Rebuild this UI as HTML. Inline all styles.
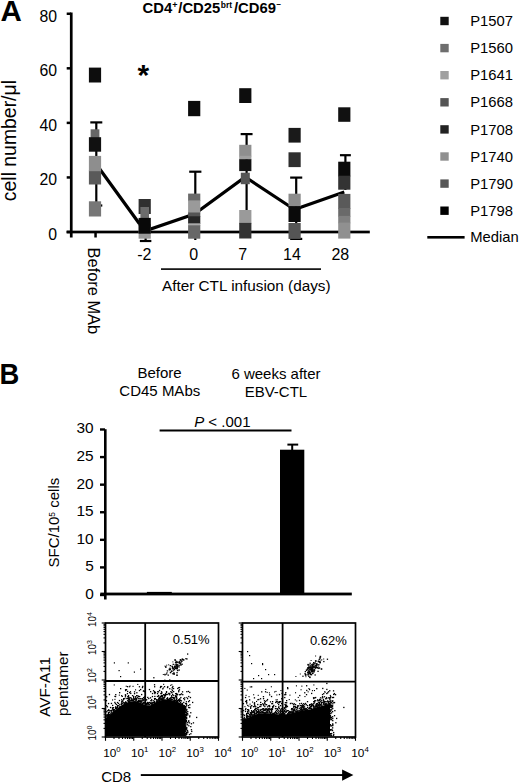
<!DOCTYPE html>
<html><head><meta charset="utf-8"><style>
html,body{margin:0;padding:0;background:#fff;}
svg{display:block;}
text{font-family:"Liberation Sans",sans-serif;fill:#000;}
</style></head><body>
<svg width="520" height="784" viewBox="0 0 520 784" shape-rendering="auto">
<rect width="520" height="784" fill="#fff"/>
<text x="0.60" y="21.20" font-size="29.5" text-anchor="start" font-weight="bold" >A</text>
<text x="142.6" y="13" font-size="14.8" font-weight="bold">CD4<tspan font-size="9" dy="-5.5">+</tspan><tspan dy="5.5" dx="0.8">/CD25</tspan><tspan font-size="8.5" dy="-5.5" dx="0.6">brt</tspan><tspan dy="5.5" dx="1.8">/CD69</tspan><tspan font-size="8" dy="-6" dx="0.6">−</tspan></text>
<rect x="69.90" y="12.50" width="2.70" height="225.00" fill="#000"/>
<rect x="66.70" y="230.75" width="4.30" height="2.50" fill="#000"/>
<text x="57.00" y="240.00" font-size="15.8" text-anchor="end" font-weight="normal" >0</text>
<rect x="66.70" y="176.19" width="4.30" height="2.50" fill="#000"/>
<text x="57.00" y="185.44" font-size="15.8" text-anchor="end" font-weight="normal" >20</text>
<rect x="66.70" y="121.63" width="4.30" height="2.50" fill="#000"/>
<text x="57.00" y="130.88" font-size="15.8" text-anchor="end" font-weight="normal" >40</text>
<rect x="66.70" y="67.07" width="4.30" height="2.50" fill="#000"/>
<text x="57.00" y="76.32" font-size="15.8" text-anchor="end" font-weight="normal" >60</text>
<rect x="66.70" y="12.51" width="4.30" height="2.50" fill="#000"/>
<text x="57.00" y="21.76" font-size="15.8" text-anchor="end" font-weight="normal" >80</text>
<rect x="66.60" y="230.65" width="303.20" height="2.70" fill="#000"/>
<rect x="94.30" y="232.00" width="2.50" height="5.50" fill="#000"/>
<text transform="translate(15.9,140.6) rotate(-90)" x="0" y="0" font-size="19.4" text-anchor="middle">cell number/μl</text>
<text transform="translate(87.5,247.6) rotate(90)" x="0" y="0" font-size="16.4">Before MAb</text>
<text x="144.35" y="259.60" font-size="16" text-anchor="middle" font-weight="normal" >-2</text>
<text x="193.75" y="259.60" font-size="16" text-anchor="middle" font-weight="normal" >0</text>
<text x="242.60" y="259.60" font-size="16" text-anchor="middle" font-weight="normal" >7</text>
<text x="292.00" y="259.60" font-size="16" text-anchor="middle" font-weight="normal" >14</text>
<text x="340.30" y="259.60" font-size="16" text-anchor="middle" font-weight="normal" >28</text>
<rect x="161.00" y="268.30" width="160.00" height="1.60" fill="#000"/>
<text x="162.00" y="291.30" font-size="15.3" text-anchor="start" font-weight="normal" >After CTL infusion (days)</text>
<text x="143.30" y="84.50" font-size="30" text-anchor="middle" font-weight="bold" >*</text>
<polyline points="95,162.5 144.7,231 194.4,214 245.2,177 294.5,209.5 344.3,192" fill="none" stroke="#000" stroke-width="3.2" stroke-linejoin="miter"/>
<line x1="96.30" y1="122.40" x2="96.30" y2="205.50" stroke="#000" stroke-width="2.2"/>
<line x1="90.30" y1="122.40" x2="102.30" y2="122.40" stroke="#000" stroke-width="2.2"/>
<line x1="90.30" y1="205.50" x2="102.30" y2="205.50" stroke="#000" stroke-width="2.2"/>
<rect x="88.90" y="67.60" width="12.20" height="14.90" fill="#0d0d0d"/>
<rect x="90.60" y="129.30" width="8.80" height="14.40" fill="#666"/>
<rect x="88.90" y="137.20" width="12.20" height="14.50" fill="#111"/>
<rect x="88.90" y="170.30" width="12.20" height="14.20" fill="#5a5a5a"/>
<rect x="88.90" y="155.90" width="12.20" height="15.30" fill="#8e8e8e"/>
<rect x="88.90" y="201.30" width="12.20" height="15.20" fill="#777"/>
<line x1="145.60" y1="228.00" x2="145.60" y2="241.00" stroke="#000" stroke-width="2.2"/>
<line x1="139.85" y1="241.00" x2="151.35" y2="241.00" stroke="#000" stroke-width="2.2"/>
<rect x="138.60" y="224.00" width="12.20" height="14.70" fill="#999"/>
<rect x="138.60" y="199.00" width="12.20" height="15.00" fill="#303030"/>
<rect x="140.40" y="207.00" width="8.60" height="11.20" fill="#6c6c6c"/>
<rect x="138.60" y="217.90" width="12.20" height="15.80" fill="#080808"/>
<line x1="195.30" y1="171.70" x2="195.30" y2="240.00" stroke="#000" stroke-width="2.2"/>
<line x1="189.20" y1="171.70" x2="201.40" y2="171.70" stroke="#000" stroke-width="2.2"/>
<rect x="188.10" y="100.90" width="12.20" height="15.30" fill="#0a0a0a"/>
<rect x="188.10" y="193.60" width="12.20" height="7.50" fill="#6a6a6a"/>
<rect x="188.10" y="200.40" width="12.20" height="12.80" fill="#9a9a9a"/>
<rect x="188.10" y="212.50" width="12.20" height="4.50" fill="#555"/>
<rect x="188.10" y="216.30" width="12.20" height="7.70" fill="#262626"/>
<rect x="188.10" y="223.30" width="12.20" height="2.70" fill="#aaa"/>
<rect x="188.10" y="225.30" width="12.20" height="13.40" fill="#686868"/>
<line x1="246.60" y1="134.10" x2="246.60" y2="210.00" stroke="#000" stroke-width="2.2"/>
<line x1="240.65" y1="134.10" x2="252.55" y2="134.10" stroke="#000" stroke-width="2.2"/>
<rect x="239.20" y="88.20" width="12.20" height="14.80" fill="#0d0d0d"/>
<rect x="239.20" y="144.80" width="12.20" height="11.70" fill="#8f8f8f"/>
<rect x="239.20" y="155.80" width="12.20" height="3.90" fill="#a0a0a0"/>
<rect x="239.20" y="159.20" width="12.20" height="11.90" fill="#111"/>
<rect x="240.80" y="172.70" width="9.00" height="11.50" fill="#555"/>
<rect x="239.20" y="210.00" width="12.20" height="13.70" fill="#9a9a9a"/>
<rect x="239.20" y="222.90" width="12.20" height="15.60" fill="#333"/>
<line x1="296.20" y1="177.60" x2="296.20" y2="238.90" stroke="#000" stroke-width="2.2"/>
<line x1="290.15" y1="177.60" x2="302.25" y2="177.60" stroke="#000" stroke-width="2.2"/>
<line x1="290.15" y1="238.90" x2="302.25" y2="238.90" stroke="#000" stroke-width="2.2"/>
<rect x="288.50" y="127.90" width="12.20" height="14.70" fill="#1a1a1a"/>
<rect x="288.50" y="152.30" width="12.20" height="14.80" fill="#2e2e2e"/>
<rect x="288.50" y="193.70" width="12.20" height="13.10" fill="#8c8c8c"/>
<rect x="288.50" y="206.10" width="12.20" height="15.90" fill="#0a0a0a"/>
<rect x="288.50" y="223.00" width="12.20" height="15.90" fill="#555"/>
<line x1="345.40" y1="155.20" x2="345.40" y2="190.00" stroke="#000" stroke-width="2.2"/>
<line x1="339.95" y1="155.20" x2="350.85" y2="155.20" stroke="#000" stroke-width="2.2"/>
<rect x="338.20" y="107.30" width="12.20" height="14.50" fill="#111"/>
<rect x="338.20" y="161.70" width="12.20" height="14.70" fill="#0a0a0a"/>
<rect x="338.20" y="175.70" width="12.20" height="14.00" fill="#333"/>
<rect x="338.20" y="193.90" width="12.20" height="15.00" fill="#5a5a5a"/>
<rect x="338.20" y="208.20" width="12.20" height="8.40" fill="#6a6a6a"/>
<rect x="338.20" y="215.90" width="12.20" height="7.40" fill="#808080"/>
<rect x="338.20" y="222.60" width="12.20" height="16.00" fill="#909090"/>
<rect x="440.30" y="16.80" width="8.40" height="8.40" fill="#111"/>
<text x="470.20" y="26.10" font-size="14.8" text-anchor="start" font-weight="normal" >P1507</text>
<rect x="440.30" y="43.90" width="8.40" height="8.40" fill="#6e6e6e"/>
<text x="470.20" y="53.20" font-size="14.8" text-anchor="start" font-weight="normal" >P1560</text>
<rect x="440.30" y="71.00" width="8.40" height="8.40" fill="#a0a0a0"/>
<text x="470.20" y="80.30" font-size="14.8" text-anchor="start" font-weight="normal" >P1641</text>
<rect x="440.30" y="98.10" width="8.40" height="8.40" fill="#555"/>
<text x="470.20" y="107.40" font-size="14.8" text-anchor="start" font-weight="normal" >P1668</text>
<rect x="440.30" y="125.20" width="8.40" height="8.40" fill="#222"/>
<text x="470.20" y="134.50" font-size="14.8" text-anchor="start" font-weight="normal" >P1708</text>
<rect x="440.30" y="152.30" width="8.40" height="8.40" fill="#909090"/>
<text x="470.20" y="161.60" font-size="14.8" text-anchor="start" font-weight="normal" >P1740</text>
<rect x="440.30" y="179.40" width="8.40" height="8.40" fill="#575757"/>
<text x="470.20" y="188.70" font-size="14.8" text-anchor="start" font-weight="normal" >P1790</text>
<rect x="440.30" y="206.50" width="8.40" height="8.40" fill="#000"/>
<text x="470.20" y="215.80" font-size="14.8" text-anchor="start" font-weight="normal" >P1798</text>
<rect x="427.30" y="236.00" width="37.30" height="2.60" fill="#000"/>
<text x="470.20" y="242.40" font-size="14.8" text-anchor="start" font-weight="normal" >Median</text>
<text transform="translate(-0.6,384.0) scale(0.93,1)" font-size="29.5" font-weight="bold">B</text>
<text x="159.60" y="377.70" font-size="15" text-anchor="middle" font-weight="normal" >Before</text>
<text x="159.80" y="395.60" font-size="15" text-anchor="middle" font-weight="normal" >CD45 MAbs</text>
<text x="276.00" y="378.60" font-size="15" text-anchor="middle" font-weight="normal" >6 weeks after</text>
<text x="275.90" y="397.00" font-size="15" text-anchor="middle" font-weight="normal" >EBV-CTL</text>
<text x="194.2" y="426.6" font-size="15"><tspan font-style="italic">P</tspan> &lt; .001</text>
<rect x="159.60" y="429.50" width="131.90" height="2.00" fill="#000"/>
<rect x="104.00" y="429.20" width="2.60" height="170.30" fill="#000"/>
<rect x="100.00" y="593.80" width="5.00" height="2.40" fill="#000"/>
<text x="93.70" y="598.90" font-size="15.4" text-anchor="end" font-weight="normal" >0</text>
<rect x="100.00" y="566.21" width="5.00" height="2.40" fill="#000"/>
<text x="93.70" y="571.31" font-size="15.4" text-anchor="end" font-weight="normal" >5</text>
<rect x="100.00" y="538.63" width="5.00" height="2.40" fill="#000"/>
<text x="93.70" y="543.73" font-size="15.4" text-anchor="end" font-weight="normal" >10</text>
<rect x="100.00" y="511.05" width="5.00" height="2.40" fill="#000"/>
<text x="93.70" y="516.14" font-size="15.4" text-anchor="end" font-weight="normal" >15</text>
<rect x="100.00" y="483.46" width="5.00" height="2.40" fill="#000"/>
<text x="93.70" y="488.56" font-size="15.4" text-anchor="end" font-weight="normal" >20</text>
<rect x="100.00" y="455.88" width="5.00" height="2.40" fill="#000"/>
<text x="93.70" y="460.97" font-size="15.4" text-anchor="end" font-weight="normal" >25</text>
<rect x="100.00" y="428.29" width="5.00" height="2.40" fill="#000"/>
<text x="93.70" y="433.39" font-size="15.4" text-anchor="end" font-weight="normal" >30</text>
<rect x="100.30" y="592.60" width="251.50" height="2.80" fill="#000"/>
<rect x="146.90" y="591.90" width="24.90" height="2.10" fill="#000"/>
<rect x="280.00" y="449.70" width="24.30" height="144.30" fill="#000"/>
<line x1="292.20" y1="444.60" x2="292.20" y2="450.00" stroke="#000" stroke-width="2"/>
<line x1="287.40" y1="444.60" x2="298.20" y2="444.60" stroke="#000" stroke-width="2"/>
<text transform="translate(59.1,522.6) rotate(-90)" font-size="15" text-anchor="middle">SFC/10<tspan font-size="8.5" dy="-4.5">5</tspan><tspan dy="4.5"> cells</tspan></text>
<rect x="105.5" y="623" width="113.0" height="114" fill="none" stroke="#000" stroke-width="1.7"/>
<line x1="145.20" y1="623.00" x2="145.20" y2="737.00" stroke="#000" stroke-width="1.8"/>
<line x1="105.50" y1="681.00" x2="218.50" y2="681.00" stroke="#000" stroke-width="1.8"/>
<line x1="105.50" y1="737.00" x2="105.50" y2="740.80" stroke="#000" stroke-width="1.1"/>
<line x1="101.70" y1="737.00" x2="105.50" y2="737.00" stroke="#000" stroke-width="1.1"/>
<line x1="114.00" y1="737.00" x2="114.00" y2="739.00" stroke="#000" stroke-width="1.1"/>
<line x1="103.50" y1="728.42" x2="105.50" y2="728.42" stroke="#000" stroke-width="1.1"/>
<line x1="118.98" y1="737.00" x2="118.98" y2="739.00" stroke="#000" stroke-width="1.1"/>
<line x1="103.50" y1="723.40" x2="105.50" y2="723.40" stroke="#000" stroke-width="1.1"/>
<line x1="122.51" y1="737.00" x2="122.51" y2="739.00" stroke="#000" stroke-width="1.1"/>
<line x1="103.50" y1="719.84" x2="105.50" y2="719.84" stroke="#000" stroke-width="1.1"/>
<line x1="125.25" y1="737.00" x2="125.25" y2="739.00" stroke="#000" stroke-width="1.1"/>
<line x1="103.50" y1="717.08" x2="105.50" y2="717.08" stroke="#000" stroke-width="1.1"/>
<line x1="127.48" y1="737.00" x2="127.48" y2="739.00" stroke="#000" stroke-width="1.1"/>
<line x1="103.50" y1="714.82" x2="105.50" y2="714.82" stroke="#000" stroke-width="1.1"/>
<line x1="129.37" y1="737.00" x2="129.37" y2="739.00" stroke="#000" stroke-width="1.1"/>
<line x1="103.50" y1="712.91" x2="105.50" y2="712.91" stroke="#000" stroke-width="1.1"/>
<line x1="131.01" y1="737.00" x2="131.01" y2="739.00" stroke="#000" stroke-width="1.1"/>
<line x1="103.50" y1="711.26" x2="105.50" y2="711.26" stroke="#000" stroke-width="1.1"/>
<line x1="132.46" y1="737.00" x2="132.46" y2="739.00" stroke="#000" stroke-width="1.1"/>
<line x1="103.50" y1="709.80" x2="105.50" y2="709.80" stroke="#000" stroke-width="1.1"/>
<line x1="133.75" y1="737.00" x2="133.75" y2="740.80" stroke="#000" stroke-width="1.1"/>
<line x1="101.70" y1="708.50" x2="105.50" y2="708.50" stroke="#000" stroke-width="1.1"/>
<line x1="142.25" y1="737.00" x2="142.25" y2="739.00" stroke="#000" stroke-width="1.1"/>
<line x1="103.50" y1="699.92" x2="105.50" y2="699.92" stroke="#000" stroke-width="1.1"/>
<line x1="147.23" y1="737.00" x2="147.23" y2="739.00" stroke="#000" stroke-width="1.1"/>
<line x1="103.50" y1="694.90" x2="105.50" y2="694.90" stroke="#000" stroke-width="1.1"/>
<line x1="150.76" y1="737.00" x2="150.76" y2="739.00" stroke="#000" stroke-width="1.1"/>
<line x1="103.50" y1="691.34" x2="105.50" y2="691.34" stroke="#000" stroke-width="1.1"/>
<line x1="153.50" y1="737.00" x2="153.50" y2="739.00" stroke="#000" stroke-width="1.1"/>
<line x1="103.50" y1="688.58" x2="105.50" y2="688.58" stroke="#000" stroke-width="1.1"/>
<line x1="155.73" y1="737.00" x2="155.73" y2="739.00" stroke="#000" stroke-width="1.1"/>
<line x1="103.50" y1="686.32" x2="105.50" y2="686.32" stroke="#000" stroke-width="1.1"/>
<line x1="157.62" y1="737.00" x2="157.62" y2="739.00" stroke="#000" stroke-width="1.1"/>
<line x1="103.50" y1="684.41" x2="105.50" y2="684.41" stroke="#000" stroke-width="1.1"/>
<line x1="159.26" y1="737.00" x2="159.26" y2="739.00" stroke="#000" stroke-width="1.1"/>
<line x1="103.50" y1="682.76" x2="105.50" y2="682.76" stroke="#000" stroke-width="1.1"/>
<line x1="160.71" y1="737.00" x2="160.71" y2="739.00" stroke="#000" stroke-width="1.1"/>
<line x1="103.50" y1="681.30" x2="105.50" y2="681.30" stroke="#000" stroke-width="1.1"/>
<line x1="162.00" y1="737.00" x2="162.00" y2="740.80" stroke="#000" stroke-width="1.1"/>
<line x1="101.70" y1="680.00" x2="105.50" y2="680.00" stroke="#000" stroke-width="1.1"/>
<line x1="170.50" y1="737.00" x2="170.50" y2="739.00" stroke="#000" stroke-width="1.1"/>
<line x1="103.50" y1="671.42" x2="105.50" y2="671.42" stroke="#000" stroke-width="1.1"/>
<line x1="175.48" y1="737.00" x2="175.48" y2="739.00" stroke="#000" stroke-width="1.1"/>
<line x1="103.50" y1="666.40" x2="105.50" y2="666.40" stroke="#000" stroke-width="1.1"/>
<line x1="179.01" y1="737.00" x2="179.01" y2="739.00" stroke="#000" stroke-width="1.1"/>
<line x1="103.50" y1="662.84" x2="105.50" y2="662.84" stroke="#000" stroke-width="1.1"/>
<line x1="181.75" y1="737.00" x2="181.75" y2="739.00" stroke="#000" stroke-width="1.1"/>
<line x1="103.50" y1="660.08" x2="105.50" y2="660.08" stroke="#000" stroke-width="1.1"/>
<line x1="183.98" y1="737.00" x2="183.98" y2="739.00" stroke="#000" stroke-width="1.1"/>
<line x1="103.50" y1="657.82" x2="105.50" y2="657.82" stroke="#000" stroke-width="1.1"/>
<line x1="185.87" y1="737.00" x2="185.87" y2="739.00" stroke="#000" stroke-width="1.1"/>
<line x1="103.50" y1="655.91" x2="105.50" y2="655.91" stroke="#000" stroke-width="1.1"/>
<line x1="187.51" y1="737.00" x2="187.51" y2="739.00" stroke="#000" stroke-width="1.1"/>
<line x1="103.50" y1="654.26" x2="105.50" y2="654.26" stroke="#000" stroke-width="1.1"/>
<line x1="188.96" y1="737.00" x2="188.96" y2="739.00" stroke="#000" stroke-width="1.1"/>
<line x1="103.50" y1="652.80" x2="105.50" y2="652.80" stroke="#000" stroke-width="1.1"/>
<line x1="190.25" y1="737.00" x2="190.25" y2="740.80" stroke="#000" stroke-width="1.1"/>
<line x1="101.70" y1="651.50" x2="105.50" y2="651.50" stroke="#000" stroke-width="1.1"/>
<line x1="198.75" y1="737.00" x2="198.75" y2="739.00" stroke="#000" stroke-width="1.1"/>
<line x1="103.50" y1="642.92" x2="105.50" y2="642.92" stroke="#000" stroke-width="1.1"/>
<line x1="203.73" y1="737.00" x2="203.73" y2="739.00" stroke="#000" stroke-width="1.1"/>
<line x1="103.50" y1="637.90" x2="105.50" y2="637.90" stroke="#000" stroke-width="1.1"/>
<line x1="207.26" y1="737.00" x2="207.26" y2="739.00" stroke="#000" stroke-width="1.1"/>
<line x1="103.50" y1="634.34" x2="105.50" y2="634.34" stroke="#000" stroke-width="1.1"/>
<line x1="210.00" y1="737.00" x2="210.00" y2="739.00" stroke="#000" stroke-width="1.1"/>
<line x1="103.50" y1="631.58" x2="105.50" y2="631.58" stroke="#000" stroke-width="1.1"/>
<line x1="212.23" y1="737.00" x2="212.23" y2="739.00" stroke="#000" stroke-width="1.1"/>
<line x1="103.50" y1="629.32" x2="105.50" y2="629.32" stroke="#000" stroke-width="1.1"/>
<line x1="214.12" y1="737.00" x2="214.12" y2="739.00" stroke="#000" stroke-width="1.1"/>
<line x1="103.50" y1="627.41" x2="105.50" y2="627.41" stroke="#000" stroke-width="1.1"/>
<line x1="215.76" y1="737.00" x2="215.76" y2="739.00" stroke="#000" stroke-width="1.1"/>
<line x1="103.50" y1="625.76" x2="105.50" y2="625.76" stroke="#000" stroke-width="1.1"/>
<line x1="217.21" y1="737.00" x2="217.21" y2="739.00" stroke="#000" stroke-width="1.1"/>
<line x1="103.50" y1="624.30" x2="105.50" y2="624.30" stroke="#000" stroke-width="1.1"/>
<line x1="101.70" y1="623.00" x2="105.50" y2="623.00" stroke="#000" stroke-width="1.1"/>
<line x1="218.50" y1="737.00" x2="218.50" y2="740.80" stroke="#000" stroke-width="1.1"/>
<rect x="242.5" y="623" width="113.0" height="114" fill="none" stroke="#000" stroke-width="1.7"/>
<line x1="282.60" y1="623.00" x2="282.60" y2="737.00" stroke="#000" stroke-width="1.8"/>
<line x1="242.50" y1="681.70" x2="355.50" y2="681.70" stroke="#000" stroke-width="1.8"/>
<line x1="242.50" y1="737.00" x2="242.50" y2="740.80" stroke="#000" stroke-width="1.1"/>
<line x1="238.70" y1="737.00" x2="242.50" y2="737.00" stroke="#000" stroke-width="1.1"/>
<line x1="251.00" y1="737.00" x2="251.00" y2="739.00" stroke="#000" stroke-width="1.1"/>
<line x1="240.50" y1="728.42" x2="242.50" y2="728.42" stroke="#000" stroke-width="1.1"/>
<line x1="255.98" y1="737.00" x2="255.98" y2="739.00" stroke="#000" stroke-width="1.1"/>
<line x1="240.50" y1="723.40" x2="242.50" y2="723.40" stroke="#000" stroke-width="1.1"/>
<line x1="259.51" y1="737.00" x2="259.51" y2="739.00" stroke="#000" stroke-width="1.1"/>
<line x1="240.50" y1="719.84" x2="242.50" y2="719.84" stroke="#000" stroke-width="1.1"/>
<line x1="262.25" y1="737.00" x2="262.25" y2="739.00" stroke="#000" stroke-width="1.1"/>
<line x1="240.50" y1="717.08" x2="242.50" y2="717.08" stroke="#000" stroke-width="1.1"/>
<line x1="264.48" y1="737.00" x2="264.48" y2="739.00" stroke="#000" stroke-width="1.1"/>
<line x1="240.50" y1="714.82" x2="242.50" y2="714.82" stroke="#000" stroke-width="1.1"/>
<line x1="266.37" y1="737.00" x2="266.37" y2="739.00" stroke="#000" stroke-width="1.1"/>
<line x1="240.50" y1="712.91" x2="242.50" y2="712.91" stroke="#000" stroke-width="1.1"/>
<line x1="268.01" y1="737.00" x2="268.01" y2="739.00" stroke="#000" stroke-width="1.1"/>
<line x1="240.50" y1="711.26" x2="242.50" y2="711.26" stroke="#000" stroke-width="1.1"/>
<line x1="269.46" y1="737.00" x2="269.46" y2="739.00" stroke="#000" stroke-width="1.1"/>
<line x1="240.50" y1="709.80" x2="242.50" y2="709.80" stroke="#000" stroke-width="1.1"/>
<line x1="270.75" y1="737.00" x2="270.75" y2="740.80" stroke="#000" stroke-width="1.1"/>
<line x1="238.70" y1="708.50" x2="242.50" y2="708.50" stroke="#000" stroke-width="1.1"/>
<line x1="279.25" y1="737.00" x2="279.25" y2="739.00" stroke="#000" stroke-width="1.1"/>
<line x1="240.50" y1="699.92" x2="242.50" y2="699.92" stroke="#000" stroke-width="1.1"/>
<line x1="284.23" y1="737.00" x2="284.23" y2="739.00" stroke="#000" stroke-width="1.1"/>
<line x1="240.50" y1="694.90" x2="242.50" y2="694.90" stroke="#000" stroke-width="1.1"/>
<line x1="287.76" y1="737.00" x2="287.76" y2="739.00" stroke="#000" stroke-width="1.1"/>
<line x1="240.50" y1="691.34" x2="242.50" y2="691.34" stroke="#000" stroke-width="1.1"/>
<line x1="290.50" y1="737.00" x2="290.50" y2="739.00" stroke="#000" stroke-width="1.1"/>
<line x1="240.50" y1="688.58" x2="242.50" y2="688.58" stroke="#000" stroke-width="1.1"/>
<line x1="292.73" y1="737.00" x2="292.73" y2="739.00" stroke="#000" stroke-width="1.1"/>
<line x1="240.50" y1="686.32" x2="242.50" y2="686.32" stroke="#000" stroke-width="1.1"/>
<line x1="294.62" y1="737.00" x2="294.62" y2="739.00" stroke="#000" stroke-width="1.1"/>
<line x1="240.50" y1="684.41" x2="242.50" y2="684.41" stroke="#000" stroke-width="1.1"/>
<line x1="296.26" y1="737.00" x2="296.26" y2="739.00" stroke="#000" stroke-width="1.1"/>
<line x1="240.50" y1="682.76" x2="242.50" y2="682.76" stroke="#000" stroke-width="1.1"/>
<line x1="297.71" y1="737.00" x2="297.71" y2="739.00" stroke="#000" stroke-width="1.1"/>
<line x1="240.50" y1="681.30" x2="242.50" y2="681.30" stroke="#000" stroke-width="1.1"/>
<line x1="299.00" y1="737.00" x2="299.00" y2="740.80" stroke="#000" stroke-width="1.1"/>
<line x1="238.70" y1="680.00" x2="242.50" y2="680.00" stroke="#000" stroke-width="1.1"/>
<line x1="307.50" y1="737.00" x2="307.50" y2="739.00" stroke="#000" stroke-width="1.1"/>
<line x1="240.50" y1="671.42" x2="242.50" y2="671.42" stroke="#000" stroke-width="1.1"/>
<line x1="312.48" y1="737.00" x2="312.48" y2="739.00" stroke="#000" stroke-width="1.1"/>
<line x1="240.50" y1="666.40" x2="242.50" y2="666.40" stroke="#000" stroke-width="1.1"/>
<line x1="316.01" y1="737.00" x2="316.01" y2="739.00" stroke="#000" stroke-width="1.1"/>
<line x1="240.50" y1="662.84" x2="242.50" y2="662.84" stroke="#000" stroke-width="1.1"/>
<line x1="318.75" y1="737.00" x2="318.75" y2="739.00" stroke="#000" stroke-width="1.1"/>
<line x1="240.50" y1="660.08" x2="242.50" y2="660.08" stroke="#000" stroke-width="1.1"/>
<line x1="320.98" y1="737.00" x2="320.98" y2="739.00" stroke="#000" stroke-width="1.1"/>
<line x1="240.50" y1="657.82" x2="242.50" y2="657.82" stroke="#000" stroke-width="1.1"/>
<line x1="322.87" y1="737.00" x2="322.87" y2="739.00" stroke="#000" stroke-width="1.1"/>
<line x1="240.50" y1="655.91" x2="242.50" y2="655.91" stroke="#000" stroke-width="1.1"/>
<line x1="324.51" y1="737.00" x2="324.51" y2="739.00" stroke="#000" stroke-width="1.1"/>
<line x1="240.50" y1="654.26" x2="242.50" y2="654.26" stroke="#000" stroke-width="1.1"/>
<line x1="325.96" y1="737.00" x2="325.96" y2="739.00" stroke="#000" stroke-width="1.1"/>
<line x1="240.50" y1="652.80" x2="242.50" y2="652.80" stroke="#000" stroke-width="1.1"/>
<line x1="327.25" y1="737.00" x2="327.25" y2="740.80" stroke="#000" stroke-width="1.1"/>
<line x1="238.70" y1="651.50" x2="242.50" y2="651.50" stroke="#000" stroke-width="1.1"/>
<line x1="335.75" y1="737.00" x2="335.75" y2="739.00" stroke="#000" stroke-width="1.1"/>
<line x1="240.50" y1="642.92" x2="242.50" y2="642.92" stroke="#000" stroke-width="1.1"/>
<line x1="340.73" y1="737.00" x2="340.73" y2="739.00" stroke="#000" stroke-width="1.1"/>
<line x1="240.50" y1="637.90" x2="242.50" y2="637.90" stroke="#000" stroke-width="1.1"/>
<line x1="344.26" y1="737.00" x2="344.26" y2="739.00" stroke="#000" stroke-width="1.1"/>
<line x1="240.50" y1="634.34" x2="242.50" y2="634.34" stroke="#000" stroke-width="1.1"/>
<line x1="347.00" y1="737.00" x2="347.00" y2="739.00" stroke="#000" stroke-width="1.1"/>
<line x1="240.50" y1="631.58" x2="242.50" y2="631.58" stroke="#000" stroke-width="1.1"/>
<line x1="349.23" y1="737.00" x2="349.23" y2="739.00" stroke="#000" stroke-width="1.1"/>
<line x1="240.50" y1="629.32" x2="242.50" y2="629.32" stroke="#000" stroke-width="1.1"/>
<line x1="351.12" y1="737.00" x2="351.12" y2="739.00" stroke="#000" stroke-width="1.1"/>
<line x1="240.50" y1="627.41" x2="242.50" y2="627.41" stroke="#000" stroke-width="1.1"/>
<line x1="352.76" y1="737.00" x2="352.76" y2="739.00" stroke="#000" stroke-width="1.1"/>
<line x1="240.50" y1="625.76" x2="242.50" y2="625.76" stroke="#000" stroke-width="1.1"/>
<line x1="354.21" y1="737.00" x2="354.21" y2="739.00" stroke="#000" stroke-width="1.1"/>
<line x1="240.50" y1="624.30" x2="242.50" y2="624.30" stroke="#000" stroke-width="1.1"/>
<line x1="238.70" y1="623.00" x2="242.50" y2="623.00" stroke="#000" stroke-width="1.1"/>
<line x1="355.50" y1="737.00" x2="355.50" y2="740.80" stroke="#000" stroke-width="1.1"/>
<text x="103.20" y="756.50" font-size="11.8" text-anchor="start">10<tspan font-size="7.8" dy="-5.0">0</tspan></text>
<text x="240.70" y="756.50" font-size="11.8" text-anchor="start">10<tspan font-size="7.8" dy="-5.0">0</tspan></text>
<text x="130.90" y="756.50" font-size="11.8" text-anchor="start">10<tspan font-size="7.8" dy="-5.0">1</tspan></text>
<text x="268.35" y="756.50" font-size="11.8" text-anchor="start">10<tspan font-size="7.8" dy="-5.0">1</tspan></text>
<text x="158.60" y="756.50" font-size="11.8" text-anchor="start">10<tspan font-size="7.8" dy="-5.0">2</tspan></text>
<text x="296.00" y="756.50" font-size="11.8" text-anchor="start">10<tspan font-size="7.8" dy="-5.0">2</tspan></text>
<text x="186.30" y="756.50" font-size="11.8" text-anchor="start">10<tspan font-size="7.8" dy="-5.0">3</tspan></text>
<text x="323.65" y="756.50" font-size="11.8" text-anchor="start">10<tspan font-size="7.8" dy="-5.0">3</tspan></text>
<text x="214.00" y="756.50" font-size="11.8" text-anchor="start">10<tspan font-size="7.8" dy="-5.0">4</tspan></text>
<text x="351.30" y="756.50" font-size="11.8" text-anchor="start">10<tspan font-size="7.8" dy="-5.0">4</tspan></text>
<text font-size="11.2" text-anchor="middle" transform="translate(95.5,733.0) rotate(-90) scale(0.88,1)">10<tspan font-size="8" dy="-3.4">0</tspan></text>
<text font-size="11.2" text-anchor="middle" transform="translate(95.5,702.4) rotate(-90) scale(0.88,1)">10<tspan font-size="8" dy="-3.4">1</tspan></text>
<text font-size="11.2" text-anchor="middle" transform="translate(95.5,675.5) rotate(-90) scale(0.88,1)">10<tspan font-size="8" dy="-3.4">2</tspan></text>
<text font-size="11.2" text-anchor="middle" transform="translate(95.5,647.5) rotate(-90) scale(0.88,1)">10<tspan font-size="8" dy="-3.4">3</tspan></text>
<text font-size="11.2" text-anchor="middle" transform="translate(95.5,619.6) rotate(-90) scale(0.88,1)">10<tspan font-size="8" dy="-3.4">4</tspan></text>
<text x="172.80" y="643.60" font-size="13" text-anchor="start" font-weight="normal" >0.51%</text>
<text x="309.90" y="644.50" font-size="13" text-anchor="start" font-weight="normal" >0.62%</text>
<text transform="translate(49.6,716.8) rotate(-90)" font-size="15.3">AVF-A11</text>
<text transform="translate(67.9,716.0) rotate(-90)" font-size="15.3">pentamer</text>
<text x="101.20" y="782.30" font-size="15" text-anchor="start" font-weight="normal" >CD8</text>
<rect x="140.80" y="774.10" width="202.20" height="1.90" fill="#000"/>
<polygon points="342.1,769.6 353.4,775.1 342.1,780.7" fill="#000"/>
<polygon points="105.4,736.2 105.4,717.5 106.3,717.5 110.0,714.5 115.0,710.2 120.0,706.2 125.0,703.3 130.0,701.5 135.0,701.0 140.0,702.5 145.0,705.0 150.0,705.5 155.0,702.5 160.0,700.5 165.0,699.3 170.0,699.8 175.0,701.0 180.0,702.7 183.0,705.0 185.0,707.3 187.0,709.5 185.5,709.5 185.5,736.2" fill="#000"/>
<rect x="106.0" y="696.1" width="1.3" height="1.3" fill="#000"/>
<rect x="105.8" y="700.0" width="1.3" height="1.3" fill="#000"/>
<rect x="105.9" y="705.0" width="1.3" height="1.3" fill="#000"/>
<rect x="105.8" y="711.1" width="1.3" height="1.3" fill="#000"/>
<rect x="106.2" y="714.1" width="1.3" height="1.3" fill="#000"/>
<rect x="105.9" y="715.1" width="1.3" height="1.3" fill="#000"/>
<rect x="106.2" y="716.0" width="1.3" height="1.3" fill="#000"/>
<rect x="106.8" y="706.1" width="1.3" height="1.3" fill="#000"/>
<rect x="107.0" y="710.2" width="1.3" height="1.3" fill="#000"/>
<rect x="107.0" y="714.2" width="1.3" height="1.3" fill="#000"/>
<rect x="107.0" y="714.9" width="1.3" height="1.3" fill="#000"/>
<rect x="107.2" y="715.8" width="1.3" height="1.3" fill="#000"/>
<rect x="107.9" y="702.9" width="1.3" height="1.3" fill="#000"/>
<rect x="108.1" y="709.1" width="1.3" height="1.3" fill="#000"/>
<rect x="107.8" y="709.8" width="1.3" height="1.3" fill="#000"/>
<rect x="107.8" y="712.0" width="1.3" height="1.3" fill="#000"/>
<rect x="107.8" y="712.9" width="1.3" height="1.3" fill="#000"/>
<rect x="107.9" y="713.9" width="1.3" height="1.3" fill="#000"/>
<rect x="108.0" y="714.9" width="1.3" height="1.3" fill="#000"/>
<rect x="108.8" y="693.9" width="1.3" height="1.3" fill="#000"/>
<rect x="108.9" y="710.2" width="1.3" height="1.3" fill="#000"/>
<rect x="109.1" y="711.9" width="1.3" height="1.3" fill="#000"/>
<rect x="109.0" y="713.9" width="1.3" height="1.3" fill="#000"/>
<rect x="109.9" y="706.9" width="1.3" height="1.3" fill="#000"/>
<rect x="109.9" y="710.1" width="1.3" height="1.3" fill="#000"/>
<rect x="110.2" y="713.1" width="1.3" height="1.3" fill="#000"/>
<rect x="110.8" y="702.8" width="1.3" height="1.3" fill="#000"/>
<rect x="111.0" y="709.9" width="1.3" height="1.3" fill="#000"/>
<rect x="110.9" y="711.2" width="1.3" height="1.3" fill="#000"/>
<rect x="111.2" y="712.0" width="1.3" height="1.3" fill="#000"/>
<rect x="112.0" y="704.8" width="1.3" height="1.3" fill="#000"/>
<rect x="111.8" y="707.2" width="1.3" height="1.3" fill="#000"/>
<rect x="112.0" y="708.0" width="1.3" height="1.3" fill="#000"/>
<rect x="111.8" y="709.2" width="1.3" height="1.3" fill="#000"/>
<rect x="112.9" y="707.0" width="1.3" height="1.3" fill="#000"/>
<rect x="112.9" y="708.8" width="1.3" height="1.3" fill="#000"/>
<rect x="112.8" y="710.0" width="1.3" height="1.3" fill="#000"/>
<rect x="112.8" y="711.1" width="1.3" height="1.3" fill="#000"/>
<rect x="114.2" y="701.8" width="1.3" height="1.3" fill="#000"/>
<rect x="113.9" y="709.0" width="1.3" height="1.3" fill="#000"/>
<rect x="114.1" y="710.1" width="1.3" height="1.3" fill="#000"/>
<rect x="115.1" y="694.0" width="1.3" height="1.3" fill="#000"/>
<rect x="114.9" y="695.9" width="1.3" height="1.3" fill="#000"/>
<rect x="114.8" y="703.0" width="1.3" height="1.3" fill="#000"/>
<rect x="115.1" y="706.1" width="1.3" height="1.3" fill="#000"/>
<rect x="115.0" y="707.0" width="1.3" height="1.3" fill="#000"/>
<rect x="115.0" y="708.0" width="1.3" height="1.3" fill="#000"/>
<rect x="115.9" y="703.9" width="1.3" height="1.3" fill="#000"/>
<rect x="116.1" y="707.1" width="1.3" height="1.3" fill="#000"/>
<rect x="116.0" y="707.9" width="1.3" height="1.3" fill="#000"/>
<rect x="116.9" y="701.9" width="1.3" height="1.3" fill="#000"/>
<rect x="117.0" y="705.0" width="1.3" height="1.3" fill="#000"/>
<rect x="116.9" y="705.9" width="1.3" height="1.3" fill="#000"/>
<rect x="116.8" y="706.9" width="1.3" height="1.3" fill="#000"/>
<rect x="117.9" y="702.8" width="1.3" height="1.3" fill="#000"/>
<rect x="118.1" y="705.0" width="1.3" height="1.3" fill="#000"/>
<rect x="119.0" y="692.0" width="1.3" height="1.3" fill="#000"/>
<rect x="118.8" y="699.9" width="1.3" height="1.3" fill="#000"/>
<rect x="119.2" y="704.0" width="1.3" height="1.3" fill="#000"/>
<rect x="119.1" y="706.2" width="1.3" height="1.3" fill="#000"/>
<rect x="120.0" y="688.0" width="1.3" height="1.3" fill="#000"/>
<rect x="121.0" y="695.1" width="1.3" height="1.3" fill="#000"/>
<rect x="121.0" y="699.2" width="1.3" height="1.3" fill="#000"/>
<rect x="121.1" y="701.0" width="1.3" height="1.3" fill="#000"/>
<rect x="120.9" y="702.2" width="1.3" height="1.3" fill="#000"/>
<rect x="120.8" y="703.1" width="1.3" height="1.3" fill="#000"/>
<rect x="120.9" y="704.0" width="1.3" height="1.3" fill="#000"/>
<rect x="122.2" y="700.0" width="1.3" height="1.3" fill="#000"/>
<rect x="122.0" y="701.1" width="1.3" height="1.3" fill="#000"/>
<rect x="122.1" y="702.9" width="1.3" height="1.3" fill="#000"/>
<rect x="123.0" y="698.0" width="1.3" height="1.3" fill="#000"/>
<rect x="122.9" y="698.8" width="1.3" height="1.3" fill="#000"/>
<rect x="122.8" y="702.1" width="1.3" height="1.3" fill="#000"/>
<rect x="124.1" y="697.9" width="1.3" height="1.3" fill="#000"/>
<rect x="124.1" y="702.1" width="1.3" height="1.3" fill="#000"/>
<rect x="124.0" y="703.0" width="1.3" height="1.3" fill="#000"/>
<rect x="124.9" y="689.1" width="1.3" height="1.3" fill="#000"/>
<rect x="125.0" y="689.9" width="1.3" height="1.3" fill="#000"/>
<rect x="124.8" y="694.1" width="1.3" height="1.3" fill="#000"/>
<rect x="124.9" y="694.8" width="1.3" height="1.3" fill="#000"/>
<rect x="124.8" y="696.1" width="1.3" height="1.3" fill="#000"/>
<rect x="125.1" y="701.2" width="1.3" height="1.3" fill="#000"/>
<rect x="124.9" y="701.8" width="1.3" height="1.3" fill="#000"/>
<rect x="125.9" y="689.0" width="1.3" height="1.3" fill="#000"/>
<rect x="126.2" y="697.9" width="1.3" height="1.3" fill="#000"/>
<rect x="125.8" y="702.1" width="1.3" height="1.3" fill="#000"/>
<rect x="127.0" y="686.0" width="1.3" height="1.3" fill="#000"/>
<rect x="127.0" y="690.8" width="1.3" height="1.3" fill="#000"/>
<rect x="126.8" y="693.0" width="1.3" height="1.3" fill="#000"/>
<rect x="127.1" y="696.1" width="1.3" height="1.3" fill="#000"/>
<rect x="127.0" y="697.9" width="1.3" height="1.3" fill="#000"/>
<rect x="126.9" y="700.1" width="1.3" height="1.3" fill="#000"/>
<rect x="127.9" y="695.0" width="1.3" height="1.3" fill="#000"/>
<rect x="127.9" y="696.0" width="1.3" height="1.3" fill="#000"/>
<rect x="128.1" y="697.1" width="1.3" height="1.3" fill="#000"/>
<rect x="127.9" y="697.9" width="1.3" height="1.3" fill="#000"/>
<rect x="128.1" y="699.0" width="1.3" height="1.3" fill="#000"/>
<rect x="127.9" y="700.2" width="1.3" height="1.3" fill="#000"/>
<rect x="127.9" y="700.8" width="1.3" height="1.3" fill="#000"/>
<rect x="129.0" y="692.0" width="1.3" height="1.3" fill="#000"/>
<rect x="129.2" y="697.1" width="1.3" height="1.3" fill="#000"/>
<rect x="129.0" y="698.2" width="1.3" height="1.3" fill="#000"/>
<rect x="128.9" y="698.9" width="1.3" height="1.3" fill="#000"/>
<rect x="129.0" y="700.2" width="1.3" height="1.3" fill="#000"/>
<rect x="129.0" y="701.1" width="1.3" height="1.3" fill="#000"/>
<rect x="129.8" y="691.1" width="1.3" height="1.3" fill="#000"/>
<rect x="130.1" y="692.8" width="1.3" height="1.3" fill="#000"/>
<rect x="130.2" y="697.0" width="1.3" height="1.3" fill="#000"/>
<rect x="130.1" y="700.0" width="1.3" height="1.3" fill="#000"/>
<rect x="131.1" y="698.0" width="1.3" height="1.3" fill="#000"/>
<rect x="130.9" y="699.1" width="1.3" height="1.3" fill="#000"/>
<rect x="130.8" y="699.9" width="1.3" height="1.3" fill="#000"/>
<rect x="131.9" y="695.0" width="1.3" height="1.3" fill="#000"/>
<rect x="132.1" y="699.2" width="1.3" height="1.3" fill="#000"/>
<rect x="132.0" y="699.9" width="1.3" height="1.3" fill="#000"/>
<rect x="133.0" y="695.8" width="1.3" height="1.3" fill="#000"/>
<rect x="133.0" y="696.8" width="1.3" height="1.3" fill="#000"/>
<rect x="132.9" y="698.1" width="1.3" height="1.3" fill="#000"/>
<rect x="132.9" y="699.2" width="1.3" height="1.3" fill="#000"/>
<rect x="133.0" y="700.1" width="1.3" height="1.3" fill="#000"/>
<rect x="133.9" y="691.2" width="1.3" height="1.3" fill="#000"/>
<rect x="133.9" y="693.0" width="1.3" height="1.3" fill="#000"/>
<rect x="134.0" y="698.2" width="1.3" height="1.3" fill="#000"/>
<rect x="134.0" y="698.9" width="1.3" height="1.3" fill="#000"/>
<rect x="135.0" y="696.1" width="1.3" height="1.3" fill="#000"/>
<rect x="135.0" y="697.2" width="1.3" height="1.3" fill="#000"/>
<rect x="135.1" y="697.8" width="1.3" height="1.3" fill="#000"/>
<rect x="135.2" y="698.9" width="1.3" height="1.3" fill="#000"/>
<rect x="135.0" y="700.2" width="1.3" height="1.3" fill="#000"/>
<rect x="136.2" y="692.1" width="1.3" height="1.3" fill="#000"/>
<rect x="136.0" y="695.0" width="1.3" height="1.3" fill="#000"/>
<rect x="135.9" y="698.1" width="1.3" height="1.3" fill="#000"/>
<rect x="135.9" y="698.9" width="1.3" height="1.3" fill="#000"/>
<rect x="136.0" y="700.2" width="1.3" height="1.3" fill="#000"/>
<rect x="137.2" y="695.1" width="1.3" height="1.3" fill="#000"/>
<rect x="136.9" y="697.1" width="1.3" height="1.3" fill="#000"/>
<rect x="137.0" y="700.9" width="1.3" height="1.3" fill="#000"/>
<rect x="137.8" y="695.9" width="1.3" height="1.3" fill="#000"/>
<rect x="137.9" y="698.1" width="1.3" height="1.3" fill="#000"/>
<rect x="138.0" y="700.0" width="1.3" height="1.3" fill="#000"/>
<rect x="137.9" y="700.9" width="1.3" height="1.3" fill="#000"/>
<rect x="138.8" y="686.1" width="1.3" height="1.3" fill="#000"/>
<rect x="138.8" y="689.9" width="1.3" height="1.3" fill="#000"/>
<rect x="139.0" y="695.9" width="1.3" height="1.3" fill="#000"/>
<rect x="139.1" y="698.1" width="1.3" height="1.3" fill="#000"/>
<rect x="139.1" y="700.0" width="1.3" height="1.3" fill="#000"/>
<rect x="139.0" y="701.0" width="1.3" height="1.3" fill="#000"/>
<rect x="140.0" y="688.9" width="1.3" height="1.3" fill="#000"/>
<rect x="139.9" y="698.1" width="1.3" height="1.3" fill="#000"/>
<rect x="140.1" y="700.1" width="1.3" height="1.3" fill="#000"/>
<rect x="139.8" y="700.9" width="1.3" height="1.3" fill="#000"/>
<rect x="139.9" y="702.2" width="1.3" height="1.3" fill="#000"/>
<rect x="141.0" y="693.9" width="1.3" height="1.3" fill="#000"/>
<rect x="141.2" y="698.2" width="1.3" height="1.3" fill="#000"/>
<rect x="141.0" y="700.2" width="1.3" height="1.3" fill="#000"/>
<rect x="141.1" y="701.0" width="1.3" height="1.3" fill="#000"/>
<rect x="141.2" y="702.0" width="1.3" height="1.3" fill="#000"/>
<rect x="142.1" y="685.8" width="1.3" height="1.3" fill="#000"/>
<rect x="141.8" y="686.9" width="1.3" height="1.3" fill="#000"/>
<rect x="142.0" y="697.9" width="1.3" height="1.3" fill="#000"/>
<rect x="142.1" y="699.2" width="1.3" height="1.3" fill="#000"/>
<rect x="142.2" y="699.9" width="1.3" height="1.3" fill="#000"/>
<rect x="141.8" y="703.0" width="1.3" height="1.3" fill="#000"/>
<rect x="143.1" y="690.2" width="1.3" height="1.3" fill="#000"/>
<rect x="143.2" y="697.0" width="1.3" height="1.3" fill="#000"/>
<rect x="143.1" y="698.8" width="1.3" height="1.3" fill="#000"/>
<rect x="143.2" y="700.1" width="1.3" height="1.3" fill="#000"/>
<rect x="143.0" y="702.0" width="1.3" height="1.3" fill="#000"/>
<rect x="143.1" y="702.9" width="1.3" height="1.3" fill="#000"/>
<rect x="143.8" y="690.9" width="1.3" height="1.3" fill="#000"/>
<rect x="144.2" y="696.1" width="1.3" height="1.3" fill="#000"/>
<rect x="144.0" y="698.1" width="1.3" height="1.3" fill="#000"/>
<rect x="143.8" y="702.1" width="1.3" height="1.3" fill="#000"/>
<rect x="145.1" y="699.8" width="1.3" height="1.3" fill="#000"/>
<rect x="145.0" y="702.1" width="1.3" height="1.3" fill="#000"/>
<rect x="145.2" y="702.9" width="1.3" height="1.3" fill="#000"/>
<rect x="145.2" y="703.9" width="1.3" height="1.3" fill="#000"/>
<rect x="146.0" y="699.1" width="1.3" height="1.3" fill="#000"/>
<rect x="145.9" y="702.9" width="1.3" height="1.3" fill="#000"/>
<rect x="145.9" y="704.0" width="1.3" height="1.3" fill="#000"/>
<rect x="147.1" y="696.8" width="1.3" height="1.3" fill="#000"/>
<rect x="147.0" y="701.8" width="1.3" height="1.3" fill="#000"/>
<rect x="147.0" y="702.9" width="1.3" height="1.3" fill="#000"/>
<rect x="147.2" y="703.9" width="1.3" height="1.3" fill="#000"/>
<rect x="148.1" y="697.9" width="1.3" height="1.3" fill="#000"/>
<rect x="148.1" y="702.1" width="1.3" height="1.3" fill="#000"/>
<rect x="147.9" y="703.0" width="1.3" height="1.3" fill="#000"/>
<rect x="148.2" y="704.1" width="1.3" height="1.3" fill="#000"/>
<rect x="148.8" y="688.9" width="1.3" height="1.3" fill="#000"/>
<rect x="148.9" y="701.8" width="1.3" height="1.3" fill="#000"/>
<rect x="149.0" y="704.0" width="1.3" height="1.3" fill="#000"/>
<rect x="150.0" y="691.0" width="1.3" height="1.3" fill="#000"/>
<rect x="149.9" y="697.2" width="1.3" height="1.3" fill="#000"/>
<rect x="150.2" y="700.0" width="1.3" height="1.3" fill="#000"/>
<rect x="149.9" y="702.2" width="1.3" height="1.3" fill="#000"/>
<rect x="149.8" y="703.0" width="1.3" height="1.3" fill="#000"/>
<rect x="151.0" y="699.1" width="1.3" height="1.3" fill="#000"/>
<rect x="151.1" y="700.1" width="1.3" height="1.3" fill="#000"/>
<rect x="151.2" y="702.1" width="1.3" height="1.3" fill="#000"/>
<rect x="150.8" y="703.0" width="1.3" height="1.3" fill="#000"/>
<rect x="151.2" y="703.9" width="1.3" height="1.3" fill="#000"/>
<rect x="151.9" y="692.9" width="1.3" height="1.3" fill="#000"/>
<rect x="151.8" y="695.9" width="1.3" height="1.3" fill="#000"/>
<rect x="151.8" y="702.1" width="1.3" height="1.3" fill="#000"/>
<rect x="151.9" y="703.2" width="1.3" height="1.3" fill="#000"/>
<rect x="152.9" y="690.1" width="1.3" height="1.3" fill="#000"/>
<rect x="152.9" y="700.2" width="1.3" height="1.3" fill="#000"/>
<rect x="153.0" y="701.9" width="1.3" height="1.3" fill="#000"/>
<rect x="153.9" y="684.1" width="1.3" height="1.3" fill="#000"/>
<rect x="154.0" y="686.1" width="1.3" height="1.3" fill="#000"/>
<rect x="153.9" y="691.0" width="1.3" height="1.3" fill="#000"/>
<rect x="153.9" y="691.9" width="1.3" height="1.3" fill="#000"/>
<rect x="154.2" y="692.9" width="1.3" height="1.3" fill="#000"/>
<rect x="154.2" y="695.8" width="1.3" height="1.3" fill="#000"/>
<rect x="153.9" y="698.0" width="1.3" height="1.3" fill="#000"/>
<rect x="154.1" y="698.8" width="1.3" height="1.3" fill="#000"/>
<rect x="154.0" y="700.9" width="1.3" height="1.3" fill="#000"/>
<rect x="154.0" y="701.9" width="1.3" height="1.3" fill="#000"/>
<rect x="154.8" y="691.8" width="1.3" height="1.3" fill="#000"/>
<rect x="154.8" y="698.0" width="1.3" height="1.3" fill="#000"/>
<rect x="155.9" y="699.0" width="1.3" height="1.3" fill="#000"/>
<rect x="156.0" y="700.2" width="1.3" height="1.3" fill="#000"/>
<rect x="156.0" y="701.1" width="1.3" height="1.3" fill="#000"/>
<rect x="157.1" y="691.1" width="1.3" height="1.3" fill="#000"/>
<rect x="156.9" y="693.0" width="1.3" height="1.3" fill="#000"/>
<rect x="156.8" y="695.8" width="1.3" height="1.3" fill="#000"/>
<rect x="157.1" y="699.2" width="1.3" height="1.3" fill="#000"/>
<rect x="156.9" y="700.2" width="1.3" height="1.3" fill="#000"/>
<rect x="156.9" y="701.1" width="1.3" height="1.3" fill="#000"/>
<rect x="157.9" y="691.2" width="1.3" height="1.3" fill="#000"/>
<rect x="158.0" y="694.9" width="1.3" height="1.3" fill="#000"/>
<rect x="158.2" y="696.1" width="1.3" height="1.3" fill="#000"/>
<rect x="158.1" y="697.9" width="1.3" height="1.3" fill="#000"/>
<rect x="158.1" y="698.8" width="1.3" height="1.3" fill="#000"/>
<rect x="158.0" y="700.1" width="1.3" height="1.3" fill="#000"/>
<rect x="158.9" y="689.8" width="1.3" height="1.3" fill="#000"/>
<rect x="158.9" y="696.9" width="1.3" height="1.3" fill="#000"/>
<rect x="159.0" y="698.0" width="1.3" height="1.3" fill="#000"/>
<rect x="159.2" y="699.2" width="1.3" height="1.3" fill="#000"/>
<rect x="158.8" y="699.8" width="1.3" height="1.3" fill="#000"/>
<rect x="160.0" y="685.9" width="1.3" height="1.3" fill="#000"/>
<rect x="159.8" y="686.9" width="1.3" height="1.3" fill="#000"/>
<rect x="160.2" y="692.9" width="1.3" height="1.3" fill="#000"/>
<rect x="160.0" y="695.8" width="1.3" height="1.3" fill="#000"/>
<rect x="160.1" y="697.1" width="1.3" height="1.3" fill="#000"/>
<rect x="159.9" y="698.2" width="1.3" height="1.3" fill="#000"/>
<rect x="160.1" y="699.2" width="1.3" height="1.3" fill="#000"/>
<rect x="160.9" y="685.9" width="1.3" height="1.3" fill="#000"/>
<rect x="160.9" y="691.1" width="1.3" height="1.3" fill="#000"/>
<rect x="161.2" y="692.1" width="1.3" height="1.3" fill="#000"/>
<rect x="160.9" y="692.9" width="1.3" height="1.3" fill="#000"/>
<rect x="160.8" y="694.9" width="1.3" height="1.3" fill="#000"/>
<rect x="160.9" y="696.0" width="1.3" height="1.3" fill="#000"/>
<rect x="161.0" y="698.1" width="1.3" height="1.3" fill="#000"/>
<rect x="161.0" y="698.9" width="1.3" height="1.3" fill="#000"/>
<rect x="162.1" y="688.2" width="1.3" height="1.3" fill="#000"/>
<rect x="162.0" y="695.0" width="1.3" height="1.3" fill="#000"/>
<rect x="161.9" y="695.9" width="1.3" height="1.3" fill="#000"/>
<rect x="162.1" y="697.1" width="1.3" height="1.3" fill="#000"/>
<rect x="162.0" y="698.1" width="1.3" height="1.3" fill="#000"/>
<rect x="161.8" y="699.0" width="1.3" height="1.3" fill="#000"/>
<rect x="162.9" y="694.0" width="1.3" height="1.3" fill="#000"/>
<rect x="162.9" y="697.2" width="1.3" height="1.3" fill="#000"/>
<rect x="163.1" y="698.1" width="1.3" height="1.3" fill="#000"/>
<rect x="163.1" y="699.1" width="1.3" height="1.3" fill="#000"/>
<rect x="163.9" y="686.0" width="1.3" height="1.3" fill="#000"/>
<rect x="164.2" y="694.1" width="1.3" height="1.3" fill="#000"/>
<rect x="163.8" y="694.9" width="1.3" height="1.3" fill="#000"/>
<rect x="164.2" y="695.9" width="1.3" height="1.3" fill="#000"/>
<rect x="163.9" y="697.0" width="1.3" height="1.3" fill="#000"/>
<rect x="164.9" y="693.1" width="1.3" height="1.3" fill="#000"/>
<rect x="164.9" y="693.9" width="1.3" height="1.3" fill="#000"/>
<rect x="164.8" y="694.9" width="1.3" height="1.3" fill="#000"/>
<rect x="165.9" y="691.0" width="1.3" height="1.3" fill="#000"/>
<rect x="165.8" y="691.9" width="1.3" height="1.3" fill="#000"/>
<rect x="165.8" y="693.9" width="1.3" height="1.3" fill="#000"/>
<rect x="166.2" y="698.0" width="1.3" height="1.3" fill="#000"/>
<rect x="167.1" y="686.1" width="1.3" height="1.3" fill="#000"/>
<rect x="166.9" y="686.9" width="1.3" height="1.3" fill="#000"/>
<rect x="167.1" y="693.8" width="1.3" height="1.3" fill="#000"/>
<rect x="166.9" y="697.1" width="1.3" height="1.3" fill="#000"/>
<rect x="167.0" y="698.0" width="1.3" height="1.3" fill="#000"/>
<rect x="166.9" y="698.9" width="1.3" height="1.3" fill="#000"/>
<rect x="168.1" y="692.8" width="1.3" height="1.3" fill="#000"/>
<rect x="168.0" y="698.8" width="1.3" height="1.3" fill="#000"/>
<rect x="169.1" y="688.1" width="1.3" height="1.3" fill="#000"/>
<rect x="169.1" y="692.9" width="1.3" height="1.3" fill="#000"/>
<rect x="169.0" y="694.1" width="1.3" height="1.3" fill="#000"/>
<rect x="169.0" y="697.8" width="1.3" height="1.3" fill="#000"/>
<rect x="169.2" y="698.8" width="1.3" height="1.3" fill="#000"/>
<rect x="170.2" y="691.0" width="1.3" height="1.3" fill="#000"/>
<rect x="170.0" y="697.2" width="1.3" height="1.3" fill="#000"/>
<rect x="170.1" y="697.9" width="1.3" height="1.3" fill="#000"/>
<rect x="169.8" y="699.2" width="1.3" height="1.3" fill="#000"/>
<rect x="171.1" y="691.8" width="1.3" height="1.3" fill="#000"/>
<rect x="171.0" y="695.1" width="1.3" height="1.3" fill="#000"/>
<rect x="170.9" y="696.2" width="1.3" height="1.3" fill="#000"/>
<rect x="171.0" y="697.2" width="1.3" height="1.3" fill="#000"/>
<rect x="171.0" y="698.9" width="1.3" height="1.3" fill="#000"/>
<rect x="172.2" y="685.9" width="1.3" height="1.3" fill="#000"/>
<rect x="171.8" y="690.0" width="1.3" height="1.3" fill="#000"/>
<rect x="172.0" y="694.0" width="1.3" height="1.3" fill="#000"/>
<rect x="171.9" y="696.9" width="1.3" height="1.3" fill="#000"/>
<rect x="171.9" y="699.1" width="1.3" height="1.3" fill="#000"/>
<rect x="172.9" y="687.9" width="1.3" height="1.3" fill="#000"/>
<rect x="173.0" y="691.0" width="1.3" height="1.3" fill="#000"/>
<rect x="173.1" y="694.9" width="1.3" height="1.3" fill="#000"/>
<rect x="173.0" y="697.0" width="1.3" height="1.3" fill="#000"/>
<rect x="172.9" y="698.1" width="1.3" height="1.3" fill="#000"/>
<rect x="173.1" y="700.1" width="1.3" height="1.3" fill="#000"/>
<rect x="174.2" y="696.9" width="1.3" height="1.3" fill="#000"/>
<rect x="174.0" y="698.1" width="1.3" height="1.3" fill="#000"/>
<rect x="174.1" y="699.1" width="1.3" height="1.3" fill="#000"/>
<rect x="173.9" y="700.0" width="1.3" height="1.3" fill="#000"/>
<rect x="175.0" y="693.0" width="1.3" height="1.3" fill="#000"/>
<rect x="175.0" y="695.1" width="1.3" height="1.3" fill="#000"/>
<rect x="175.0" y="695.9" width="1.3" height="1.3" fill="#000"/>
<rect x="174.9" y="700.0" width="1.3" height="1.3" fill="#000"/>
<rect x="176.0" y="692.9" width="1.3" height="1.3" fill="#000"/>
<rect x="175.9" y="694.1" width="1.3" height="1.3" fill="#000"/>
<rect x="175.9" y="695.9" width="1.3" height="1.3" fill="#000"/>
<rect x="175.9" y="697.0" width="1.3" height="1.3" fill="#000"/>
<rect x="176.2" y="697.8" width="1.3" height="1.3" fill="#000"/>
<rect x="176.0" y="698.9" width="1.3" height="1.3" fill="#000"/>
<rect x="175.9" y="700.2" width="1.3" height="1.3" fill="#000"/>
<rect x="175.8" y="701.0" width="1.3" height="1.3" fill="#000"/>
<rect x="177.1" y="687.8" width="1.3" height="1.3" fill="#000"/>
<rect x="177.0" y="693.8" width="1.3" height="1.3" fill="#000"/>
<rect x="176.9" y="699.9" width="1.3" height="1.3" fill="#000"/>
<rect x="177.0" y="700.9" width="1.3" height="1.3" fill="#000"/>
<rect x="178.1" y="687.0" width="1.3" height="1.3" fill="#000"/>
<rect x="178.1" y="690.1" width="1.3" height="1.3" fill="#000"/>
<rect x="178.0" y="691.1" width="1.3" height="1.3" fill="#000"/>
<rect x="178.0" y="699.1" width="1.3" height="1.3" fill="#000"/>
<rect x="178.0" y="699.9" width="1.3" height="1.3" fill="#000"/>
<rect x="178.9" y="686.9" width="1.3" height="1.3" fill="#000"/>
<rect x="178.8" y="689.1" width="1.3" height="1.3" fill="#000"/>
<rect x="179.0" y="694.1" width="1.3" height="1.3" fill="#000"/>
<rect x="179.2" y="698.0" width="1.3" height="1.3" fill="#000"/>
<rect x="179.1" y="699.0" width="1.3" height="1.3" fill="#000"/>
<rect x="179.0" y="700.1" width="1.3" height="1.3" fill="#000"/>
<rect x="178.8" y="700.8" width="1.3" height="1.3" fill="#000"/>
<rect x="180.0" y="693.9" width="1.3" height="1.3" fill="#000"/>
<rect x="180.2" y="696.9" width="1.3" height="1.3" fill="#000"/>
<rect x="179.9" y="699.9" width="1.3" height="1.3" fill="#000"/>
<rect x="180.0" y="701.9" width="1.3" height="1.3" fill="#000"/>
<rect x="180.9" y="693.2" width="1.3" height="1.3" fill="#000"/>
<rect x="180.8" y="700.2" width="1.3" height="1.3" fill="#000"/>
<rect x="181.1" y="703.2" width="1.3" height="1.3" fill="#000"/>
<rect x="181.9" y="691.2" width="1.3" height="1.3" fill="#000"/>
<rect x="182.1" y="694.0" width="1.3" height="1.3" fill="#000"/>
<rect x="181.8" y="702.8" width="1.3" height="1.3" fill="#000"/>
<rect x="182.0" y="703.9" width="1.3" height="1.3" fill="#000"/>
<rect x="183.0" y="697.9" width="1.3" height="1.3" fill="#000"/>
<rect x="183.1" y="701.8" width="1.3" height="1.3" fill="#000"/>
<rect x="183.1" y="704.9" width="1.3" height="1.3" fill="#000"/>
<rect x="184.1" y="697.2" width="1.3" height="1.3" fill="#000"/>
<rect x="183.9" y="699.1" width="1.3" height="1.3" fill="#000"/>
<rect x="183.8" y="705.1" width="1.3" height="1.3" fill="#000"/>
<rect x="184.1" y="705.9" width="1.3" height="1.3" fill="#000"/>
<rect x="184.9" y="702.9" width="1.3" height="1.3" fill="#000"/>
<rect x="184.9" y="706.0" width="1.3" height="1.3" fill="#000"/>
<rect x="185.1" y="706.8" width="1.3" height="1.3" fill="#000"/>
<rect x="184.9" y="708.1" width="1.3" height="1.3" fill="#000"/>
<rect x="185.2" y="709.2" width="1.3" height="1.3" fill="#000"/>
<rect x="185.1" y="710.2" width="1.3" height="1.3" fill="#000"/>
<rect x="185.0" y="711.1" width="1.3" height="1.3" fill="#000"/>
<rect x="185.1" y="712.0" width="1.3" height="1.3" fill="#000"/>
<rect x="185.0" y="713.9" width="1.3" height="1.3" fill="#000"/>
<rect x="185.2" y="715.0" width="1.3" height="1.3" fill="#000"/>
<rect x="184.9" y="715.8" width="1.3" height="1.3" fill="#000"/>
<rect x="185.0" y="716.8" width="1.3" height="1.3" fill="#000"/>
<rect x="185.2" y="717.8" width="1.3" height="1.3" fill="#000"/>
<rect x="184.9" y="718.8" width="1.3" height="1.3" fill="#000"/>
<rect x="184.8" y="719.9" width="1.3" height="1.3" fill="#000"/>
<rect x="185.0" y="721.0" width="1.3" height="1.3" fill="#000"/>
<rect x="185.1" y="721.9" width="1.3" height="1.3" fill="#000"/>
<rect x="185.2" y="722.9" width="1.3" height="1.3" fill="#000"/>
<rect x="185.2" y="724.1" width="1.3" height="1.3" fill="#000"/>
<rect x="184.9" y="725.2" width="1.3" height="1.3" fill="#000"/>
<rect x="184.9" y="725.9" width="1.3" height="1.3" fill="#000"/>
<rect x="185.0" y="727.1" width="1.3" height="1.3" fill="#000"/>
<rect x="184.9" y="727.9" width="1.3" height="1.3" fill="#000"/>
<rect x="184.9" y="728.9" width="1.3" height="1.3" fill="#000"/>
<rect x="185.0" y="730.2" width="1.3" height="1.3" fill="#000"/>
<rect x="185.0" y="730.9" width="1.3" height="1.3" fill="#000"/>
<rect x="184.8" y="732.9" width="1.3" height="1.3" fill="#000"/>
<rect x="185.1" y="733.9" width="1.3" height="1.3" fill="#000"/>
<rect x="185.1" y="735.0" width="1.3" height="1.3" fill="#000"/>
<rect x="186.2" y="691.0" width="1.3" height="1.3" fill="#000"/>
<rect x="185.8" y="701.1" width="1.3" height="1.3" fill="#000"/>
<rect x="185.8" y="703.0" width="1.3" height="1.3" fill="#000"/>
<rect x="185.9" y="704.1" width="1.3" height="1.3" fill="#000"/>
<rect x="185.9" y="705.2" width="1.3" height="1.3" fill="#000"/>
<rect x="186.2" y="708.8" width="1.3" height="1.3" fill="#000"/>
<rect x="186.0" y="710.1" width="1.3" height="1.3" fill="#000"/>
<rect x="185.9" y="711.8" width="1.3" height="1.3" fill="#000"/>
<rect x="186.2" y="712.8" width="1.3" height="1.3" fill="#000"/>
<rect x="185.9" y="713.8" width="1.3" height="1.3" fill="#000"/>
<rect x="185.9" y="715.0" width="1.3" height="1.3" fill="#000"/>
<rect x="186.0" y="716.9" width="1.3" height="1.3" fill="#000"/>
<rect x="186.0" y="718.0" width="1.3" height="1.3" fill="#000"/>
<rect x="185.8" y="719.8" width="1.3" height="1.3" fill="#000"/>
<rect x="185.9" y="721.0" width="1.3" height="1.3" fill="#000"/>
<rect x="186.1" y="726.9" width="1.3" height="1.3" fill="#000"/>
<rect x="186.0" y="727.9" width="1.3" height="1.3" fill="#000"/>
<rect x="185.9" y="729.1" width="1.3" height="1.3" fill="#000"/>
<rect x="186.0" y="731.9" width="1.3" height="1.3" fill="#000"/>
<rect x="186.0" y="732.9" width="1.3" height="1.3" fill="#000"/>
<rect x="186.0" y="733.8" width="1.3" height="1.3" fill="#000"/>
<rect x="186.9" y="698.0" width="1.3" height="1.3" fill="#000"/>
<rect x="187.1" y="711.0" width="1.3" height="1.3" fill="#000"/>
<rect x="187.0" y="713.0" width="1.3" height="1.3" fill="#000"/>
<rect x="187.1" y="714.2" width="1.3" height="1.3" fill="#000"/>
<rect x="187.0" y="722.1" width="1.3" height="1.3" fill="#000"/>
<rect x="186.9" y="724.1" width="1.3" height="1.3" fill="#000"/>
<rect x="186.9" y="729.8" width="1.3" height="1.3" fill="#000"/>
<rect x="187.1" y="731.1" width="1.3" height="1.3" fill="#000"/>
<rect x="187.1" y="731.9" width="1.3" height="1.3" fill="#000"/>
<rect x="187.8" y="690.8" width="1.3" height="1.3" fill="#000"/>
<rect x="188.1" y="695.9" width="1.3" height="1.3" fill="#000"/>
<rect x="188.0" y="701.0" width="1.3" height="1.3" fill="#000"/>
<rect x="187.8" y="705.0" width="1.3" height="1.3" fill="#000"/>
<rect x="188.1" y="706.9" width="1.3" height="1.3" fill="#000"/>
<rect x="188.1" y="720.1" width="1.3" height="1.3" fill="#000"/>
<rect x="188.0" y="721.1" width="1.3" height="1.3" fill="#000"/>
<rect x="188.2" y="725.1" width="1.3" height="1.3" fill="#000"/>
<rect x="189.1" y="691.8" width="1.3" height="1.3" fill="#000"/>
<rect x="188.8" y="700.0" width="1.3" height="1.3" fill="#000"/>
<rect x="189.2" y="704.1" width="1.3" height="1.3" fill="#000"/>
<rect x="189.1" y="707.0" width="1.3" height="1.3" fill="#000"/>
<rect x="189.2" y="715.2" width="1.3" height="1.3" fill="#000"/>
<rect x="189.0" y="716.2" width="1.3" height="1.3" fill="#000"/>
<rect x="188.9" y="722.2" width="1.3" height="1.3" fill="#000"/>
<rect x="188.8" y="733.9" width="1.3" height="1.3" fill="#000"/>
<rect x="189.8" y="696.9" width="1.3" height="1.3" fill="#000"/>
<rect x="190.1" y="712.1" width="1.3" height="1.3" fill="#000"/>
<rect x="190.1" y="726.0" width="1.3" height="1.3" fill="#000"/>
<rect x="190.2" y="733.1" width="1.3" height="1.3" fill="#000"/>
<rect x="190.8" y="723.1" width="1.3" height="1.3" fill="#000"/>
<rect x="190.8" y="729.1" width="1.3" height="1.3" fill="#000"/>
<rect x="191.1" y="730.8" width="1.3" height="1.3" fill="#000"/>
<rect x="192.0" y="701.8" width="1.3" height="1.3" fill="#000"/>
<rect x="192.8" y="722.2" width="1.3" height="1.3" fill="#000"/>
<rect x="196.0" y="716.8" width="1.3" height="1.3" fill="#000"/>
<rect x="118.8" y="694.6" width="1.1" height="1.1" fill="#000"/>
<rect x="112.0" y="699.4" width="1.1" height="1.1" fill="#000"/>
<rect x="129.0" y="686.2" width="1.1" height="1.1" fill="#000"/>
<rect x="137.2" y="683.9" width="1.1" height="1.1" fill="#000"/>
<rect x="114.4" y="698.8" width="1.1" height="1.1" fill="#000"/>
<rect x="129.5" y="685.5" width="1.1" height="1.1" fill="#000"/>
<rect x="121.8" y="695.9" width="1.1" height="1.1" fill="#000"/>
<rect x="113.7" y="684.4" width="1.1" height="1.1" fill="#000"/>
<rect x="125.7" y="685.7" width="1.1" height="1.1" fill="#000"/>
<rect x="132.5" y="685.8" width="1.1" height="1.1" fill="#000"/>
<rect x="114.3" y="695.8" width="1.1" height="1.1" fill="#000"/>
<rect x="142.7" y="690.6" width="1.1" height="1.1" fill="#000"/>
<rect x="143.0" y="696.9" width="1.1" height="1.1" fill="#000"/>
<rect x="135.0" y="689.3" width="1.1" height="1.1" fill="#000"/>
<rect x="163.1" y="683.8" width="1.1" height="1.1" fill="#000"/>
<rect x="170.1" y="684.8" width="1.1" height="1.1" fill="#000"/>
<rect x="171.9" y="687.4" width="1.1" height="1.1" fill="#000"/>
<rect x="171.4" y="688.8" width="1.1" height="1.1" fill="#000"/>
<rect x="171.6" y="692.4" width="1.1" height="1.1" fill="#000"/>
<rect x="171.3" y="684.2" width="1.1" height="1.1" fill="#000"/>
<rect x="186.3" y="696.9" width="1.1" height="1.1" fill="#000"/>
<rect x="162.9" y="687.4" width="1.1" height="1.1" fill="#000"/>
<rect x="171.7" y="687.0" width="1.1" height="1.1" fill="#000"/>
<rect x="176.5" y="694.5" width="1.1" height="1.1" fill="#000"/>
<rect x="113.8" y="662.3" width="1.2" height="1.2" fill="#000"/>
<rect x="127.7" y="662.3" width="1.2" height="1.2" fill="#000"/>
<rect x="118.5" y="670.0" width="1.2" height="1.2" fill="#000"/>
<rect x="133.8" y="671.5" width="1.2" height="1.2" fill="#000"/>
<rect x="120.0" y="676.0" width="1.2" height="1.2" fill="#000"/>
<rect x="140.0" y="668.5" width="1.2" height="1.2" fill="#000"/>
<rect x="185.3" y="658.0" width="1.3" height="1.3" fill="#000"/>
<rect x="175.4" y="661.3" width="1.6" height="1.6" fill="#000"/>
<rect x="169.7" y="665.0" width="1.3" height="1.3" fill="#000"/>
<rect x="176.4" y="665.9" width="1.3" height="1.3" fill="#000"/>
<rect x="166.5" y="672.1" width="1.0" height="1.0" fill="#000"/>
<rect x="169.4" y="668.4" width="1.6" height="1.6" fill="#000"/>
<rect x="177.2" y="664.4" width="1.3" height="1.3" fill="#000"/>
<rect x="166.0" y="673.3" width="1.3" height="1.3" fill="#000"/>
<rect x="171.8" y="668.2" width="1.0" height="1.0" fill="#000"/>
<rect x="171.9" y="667.0" width="1.6" height="1.6" fill="#000"/>
<rect x="173.8" y="668.9" width="1.0" height="1.0" fill="#000"/>
<rect x="178.9" y="661.3" width="1.3" height="1.3" fill="#000"/>
<rect x="174.5" y="667.4" width="1.6" height="1.6" fill="#000"/>
<rect x="178.7" y="662.7" width="1.0" height="1.0" fill="#000"/>
<rect x="174.2" y="665.5" width="1.3" height="1.3" fill="#000"/>
<rect x="176.9" y="661.6" width="1.3" height="1.3" fill="#000"/>
<rect x="181.0" y="660.3" width="1.6" height="1.6" fill="#000"/>
<rect x="164.0" y="679.7" width="1.6" height="1.6" fill="#000"/>
<rect x="179.7" y="660.4" width="1.0" height="1.0" fill="#000"/>
<rect x="179.8" y="659.1" width="1.0" height="1.0" fill="#000"/>
<rect x="169.5" y="667.5" width="1.0" height="1.0" fill="#000"/>
<rect x="167.6" y="674.5" width="1.3" height="1.3" fill="#000"/>
<rect x="177.0" y="665.6" width="1.6" height="1.6" fill="#000"/>
<rect x="172.5" y="668.7" width="1.0" height="1.0" fill="#000"/>
<rect x="186.3" y="658.3" width="1.3" height="1.3" fill="#000"/>
<rect x="173.0" y="667.8" width="1.3" height="1.3" fill="#000"/>
<rect x="176.8" y="667.9" width="1.0" height="1.0" fill="#000"/>
<rect x="176.2" y="666.2" width="1.6" height="1.6" fill="#000"/>
<rect x="172.2" y="673.1" width="1.3" height="1.3" fill="#000"/>
<rect x="174.3" y="659.2" width="1.6" height="1.6" fill="#000"/>
<rect x="167.2" y="670.4" width="1.0" height="1.0" fill="#000"/>
<rect x="176.2" y="674.4" width="1.6" height="1.6" fill="#000"/>
<rect x="181.6" y="658.4" width="1.6" height="1.6" fill="#000"/>
<rect x="173.3" y="673.3" width="1.6" height="1.6" fill="#000"/>
<rect x="178.4" y="666.3" width="1.3" height="1.3" fill="#000"/>
<rect x="168.2" y="664.3" width="1.0" height="1.0" fill="#000"/>
<rect x="172.4" y="661.4" width="1.0" height="1.0" fill="#000"/>
<rect x="173.1" y="672.3" width="1.6" height="1.6" fill="#000"/>
<rect x="169.3" y="679.2" width="1.0" height="1.0" fill="#000"/>
<rect x="176.4" y="660.9" width="1.0" height="1.0" fill="#000"/>
<rect x="174.9" y="662.1" width="1.3" height="1.3" fill="#000"/>
<rect x="176.4" y="667.3" width="1.6" height="1.6" fill="#000"/>
<rect x="178.9" y="661.5" width="1.3" height="1.3" fill="#000"/>
<rect x="173.6" y="668.7" width="1.6" height="1.6" fill="#000"/>
<rect x="179.8" y="659.2" width="1.6" height="1.6" fill="#000"/>
<rect x="173.0" y="670.2" width="1.0" height="1.0" fill="#000"/>
<rect x="174.5" y="665.8" width="1.0" height="1.0" fill="#000"/>
<rect x="169.0" y="668.8" width="1.6" height="1.6" fill="#000"/>
<rect x="182.8" y="659.1" width="1.6" height="1.6" fill="#000"/>
<rect x="175.8" y="662.5" width="1.0" height="1.0" fill="#000"/>
<rect x="171.3" y="665.7" width="1.0" height="1.0" fill="#000"/>
<rect x="181.5" y="663.6" width="1.3" height="1.3" fill="#000"/>
<rect x="176.4" y="672.0" width="1.3" height="1.3" fill="#000"/>
<rect x="176.0" y="664.5" width="1.6" height="1.6" fill="#000"/>
<rect x="171.0" y="670.4" width="1.6" height="1.6" fill="#000"/>
<rect x="166.7" y="670.4" width="1.0" height="1.0" fill="#000"/>
<rect x="176.3" y="663.8" width="1.3" height="1.3" fill="#000"/>
<rect x="166.2" y="664.7" width="1.0" height="1.0" fill="#000"/>
<rect x="187.0" y="653.4" width="1.3" height="1.3" fill="#000"/>
<rect x="180.6" y="662.2" width="1.0" height="1.0" fill="#000"/>
<rect x="162.8" y="674.0" width="1.0" height="1.0" fill="#000"/>
<rect x="178.3" y="661.6" width="1.6" height="1.6" fill="#000"/>
<rect x="164.5" y="665.6" width="1.0" height="1.0" fill="#000"/>
<rect x="180.1" y="664.1" width="1.6" height="1.6" fill="#000"/>
<rect x="174.6" y="664.0" width="1.0" height="1.0" fill="#000"/>
<rect x="153.2" y="677.1" width="1.3" height="1.3" fill="#000"/>
<rect x="176.3" y="663.9" width="1.0" height="1.0" fill="#000"/>
<rect x="179.3" y="662.6" width="1.6" height="1.6" fill="#000"/>
<rect x="169.8" y="671.7" width="1.6" height="1.6" fill="#000"/>
<rect x="178.5" y="664.8" width="1.3" height="1.3" fill="#000"/>
<rect x="172.6" y="663.7" width="1.3" height="1.3" fill="#000"/>
<rect x="176.5" y="666.5" width="1.3" height="1.3" fill="#000"/>
<rect x="178.6" y="669.4" width="1.3" height="1.3" fill="#000"/>
<rect x="174.2" y="666.1" width="1.6" height="1.6" fill="#000"/>
<rect x="173.8" y="666.2" width="1.6" height="1.6" fill="#000"/>
<rect x="176.9" y="669.6" width="1.6" height="1.6" fill="#000"/>
<rect x="168.6" y="668.6" width="1.6" height="1.6" fill="#000"/>
<rect x="175.3" y="660.3" width="1.0" height="1.0" fill="#000"/>
<rect x="171.8" y="665.8" width="1.3" height="1.3" fill="#000"/>
<rect x="175.5" y="664.4" width="1.6" height="1.6" fill="#000"/>
<rect x="175.8" y="667.8" width="1.6" height="1.6" fill="#000"/>
<rect x="164.2" y="673.8" width="1.6" height="1.6" fill="#000"/>
<rect x="180.3" y="662.5" width="1.0" height="1.0" fill="#000"/>
<rect x="175.3" y="666.5" width="1.0" height="1.0" fill="#000"/>
<rect x="165.0" y="666.2" width="1.6" height="1.6" fill="#000"/>
<polygon points="242.4,736.2 242.4,719.2 243.3,719.2 250.0,717.0 255.0,714.6 260.0,713.5 265.0,712.9 270.0,713.5 275.0,714.0 280.0,714.6 285.0,714.6 290.0,713.5 295.0,712.3 300.0,711.0 305.0,710.0 310.0,709.4 315.0,707.5 320.0,706.5 325.0,705.0 329.0,704.5 331.5,706.0 330.0,706.0 330.0,736.2" fill="#000"/>
<rect x="242.8" y="703.0" width="1.3" height="1.3" fill="#000"/>
<rect x="242.9" y="709.9" width="1.3" height="1.3" fill="#000"/>
<rect x="243.2" y="714.1" width="1.3" height="1.3" fill="#000"/>
<rect x="242.9" y="718.2" width="1.3" height="1.3" fill="#000"/>
<rect x="243.9" y="715.0" width="1.3" height="1.3" fill="#000"/>
<rect x="243.8" y="717.1" width="1.3" height="1.3" fill="#000"/>
<rect x="244.2" y="717.9" width="1.3" height="1.3" fill="#000"/>
<rect x="244.9" y="696.9" width="1.3" height="1.3" fill="#000"/>
<rect x="245.1" y="700.8" width="1.3" height="1.3" fill="#000"/>
<rect x="245.2" y="707.9" width="1.3" height="1.3" fill="#000"/>
<rect x="244.9" y="709.0" width="1.3" height="1.3" fill="#000"/>
<rect x="244.9" y="710.8" width="1.3" height="1.3" fill="#000"/>
<rect x="246.0" y="699.9" width="1.3" height="1.3" fill="#000"/>
<rect x="245.8" y="700.9" width="1.3" height="1.3" fill="#000"/>
<rect x="246.1" y="702.0" width="1.3" height="1.3" fill="#000"/>
<rect x="246.0" y="713.0" width="1.3" height="1.3" fill="#000"/>
<rect x="245.8" y="714.0" width="1.3" height="1.3" fill="#000"/>
<rect x="246.1" y="714.9" width="1.3" height="1.3" fill="#000"/>
<rect x="245.9" y="715.9" width="1.3" height="1.3" fill="#000"/>
<rect x="246.0" y="717.0" width="1.3" height="1.3" fill="#000"/>
<rect x="247.1" y="704.8" width="1.3" height="1.3" fill="#000"/>
<rect x="247.0" y="709.0" width="1.3" height="1.3" fill="#000"/>
<rect x="247.0" y="710.8" width="1.3" height="1.3" fill="#000"/>
<rect x="246.9" y="712.2" width="1.3" height="1.3" fill="#000"/>
<rect x="247.1" y="712.9" width="1.3" height="1.3" fill="#000"/>
<rect x="247.0" y="715.1" width="1.3" height="1.3" fill="#000"/>
<rect x="246.8" y="715.8" width="1.3" height="1.3" fill="#000"/>
<rect x="247.1" y="717.1" width="1.3" height="1.3" fill="#000"/>
<rect x="247.9" y="709.2" width="1.3" height="1.3" fill="#000"/>
<rect x="248.0" y="709.8" width="1.3" height="1.3" fill="#000"/>
<rect x="248.2" y="711.2" width="1.3" height="1.3" fill="#000"/>
<rect x="247.9" y="712.9" width="1.3" height="1.3" fill="#000"/>
<rect x="248.0" y="715.8" width="1.3" height="1.3" fill="#000"/>
<rect x="249.0" y="699.2" width="1.3" height="1.3" fill="#000"/>
<rect x="249.0" y="714.0" width="1.3" height="1.3" fill="#000"/>
<rect x="249.2" y="715.1" width="1.3" height="1.3" fill="#000"/>
<rect x="249.0" y="716.1" width="1.3" height="1.3" fill="#000"/>
<rect x="250.2" y="705.8" width="1.3" height="1.3" fill="#000"/>
<rect x="250.0" y="707.1" width="1.3" height="1.3" fill="#000"/>
<rect x="249.9" y="712.0" width="1.3" height="1.3" fill="#000"/>
<rect x="249.8" y="713.1" width="1.3" height="1.3" fill="#000"/>
<rect x="250.1" y="714.1" width="1.3" height="1.3" fill="#000"/>
<rect x="250.1" y="715.1" width="1.3" height="1.3" fill="#000"/>
<rect x="249.9" y="715.9" width="1.3" height="1.3" fill="#000"/>
<rect x="251.0" y="686.2" width="1.3" height="1.3" fill="#000"/>
<rect x="251.1" y="705.0" width="1.3" height="1.3" fill="#000"/>
<rect x="250.9" y="710.0" width="1.3" height="1.3" fill="#000"/>
<rect x="250.9" y="711.2" width="1.3" height="1.3" fill="#000"/>
<rect x="251.1" y="712.0" width="1.3" height="1.3" fill="#000"/>
<rect x="250.9" y="712.8" width="1.3" height="1.3" fill="#000"/>
<rect x="250.9" y="714.0" width="1.3" height="1.3" fill="#000"/>
<rect x="251.2" y="715.2" width="1.3" height="1.3" fill="#000"/>
<rect x="252.0" y="711.1" width="1.3" height="1.3" fill="#000"/>
<rect x="252.0" y="711.9" width="1.3" height="1.3" fill="#000"/>
<rect x="252.0" y="714.2" width="1.3" height="1.3" fill="#000"/>
<rect x="252.2" y="714.9" width="1.3" height="1.3" fill="#000"/>
<rect x="252.9" y="706.0" width="1.3" height="1.3" fill="#000"/>
<rect x="252.9" y="710.1" width="1.3" height="1.3" fill="#000"/>
<rect x="253.1" y="710.9" width="1.3" height="1.3" fill="#000"/>
<rect x="253.1" y="711.9" width="1.3" height="1.3" fill="#000"/>
<rect x="253.0" y="714.2" width="1.3" height="1.3" fill="#000"/>
<rect x="253.8" y="697.2" width="1.3" height="1.3" fill="#000"/>
<rect x="253.9" y="702.1" width="1.3" height="1.3" fill="#000"/>
<rect x="253.8" y="702.9" width="1.3" height="1.3" fill="#000"/>
<rect x="253.9" y="704.1" width="1.3" height="1.3" fill="#000"/>
<rect x="254.2" y="705.1" width="1.3" height="1.3" fill="#000"/>
<rect x="254.2" y="705.9" width="1.3" height="1.3" fill="#000"/>
<rect x="254.0" y="708.8" width="1.3" height="1.3" fill="#000"/>
<rect x="254.2" y="710.1" width="1.3" height="1.3" fill="#000"/>
<rect x="254.1" y="711.2" width="1.3" height="1.3" fill="#000"/>
<rect x="254.0" y="711.9" width="1.3" height="1.3" fill="#000"/>
<rect x="253.8" y="712.9" width="1.3" height="1.3" fill="#000"/>
<rect x="253.9" y="714.0" width="1.3" height="1.3" fill="#000"/>
<rect x="255.1" y="706.1" width="1.3" height="1.3" fill="#000"/>
<rect x="255.0" y="707.9" width="1.3" height="1.3" fill="#000"/>
<rect x="255.0" y="709.1" width="1.3" height="1.3" fill="#000"/>
<rect x="254.8" y="713.1" width="1.3" height="1.3" fill="#000"/>
<rect x="256.1" y="707.9" width="1.3" height="1.3" fill="#000"/>
<rect x="255.9" y="710.0" width="1.3" height="1.3" fill="#000"/>
<rect x="256.0" y="711.2" width="1.3" height="1.3" fill="#000"/>
<rect x="256.1" y="712.1" width="1.3" height="1.3" fill="#000"/>
<rect x="256.0" y="713.0" width="1.3" height="1.3" fill="#000"/>
<rect x="257.1" y="703.9" width="1.3" height="1.3" fill="#000"/>
<rect x="257.1" y="706.9" width="1.3" height="1.3" fill="#000"/>
<rect x="257.1" y="708.8" width="1.3" height="1.3" fill="#000"/>
<rect x="256.9" y="711.0" width="1.3" height="1.3" fill="#000"/>
<rect x="256.8" y="712.0" width="1.3" height="1.3" fill="#000"/>
<rect x="258.1" y="698.9" width="1.3" height="1.3" fill="#000"/>
<rect x="257.9" y="707.0" width="1.3" height="1.3" fill="#000"/>
<rect x="258.2" y="709.1" width="1.3" height="1.3" fill="#000"/>
<rect x="258.1" y="710.0" width="1.3" height="1.3" fill="#000"/>
<rect x="257.8" y="711.0" width="1.3" height="1.3" fill="#000"/>
<rect x="258.1" y="712.0" width="1.3" height="1.3" fill="#000"/>
<rect x="258.1" y="712.9" width="1.3" height="1.3" fill="#000"/>
<rect x="259.1" y="705.9" width="1.3" height="1.3" fill="#000"/>
<rect x="259.2" y="710.8" width="1.3" height="1.3" fill="#000"/>
<rect x="259.1" y="711.8" width="1.3" height="1.3" fill="#000"/>
<rect x="259.2" y="713.1" width="1.3" height="1.3" fill="#000"/>
<rect x="259.9" y="698.1" width="1.3" height="1.3" fill="#000"/>
<rect x="260.0" y="701.8" width="1.3" height="1.3" fill="#000"/>
<rect x="259.8" y="704.0" width="1.3" height="1.3" fill="#000"/>
<rect x="260.1" y="705.8" width="1.3" height="1.3" fill="#000"/>
<rect x="260.2" y="708.9" width="1.3" height="1.3" fill="#000"/>
<rect x="260.0" y="709.9" width="1.3" height="1.3" fill="#000"/>
<rect x="260.0" y="712.0" width="1.3" height="1.3" fill="#000"/>
<rect x="261.1" y="691.2" width="1.3" height="1.3" fill="#000"/>
<rect x="260.9" y="704.1" width="1.3" height="1.3" fill="#000"/>
<rect x="261.1" y="708.9" width="1.3" height="1.3" fill="#000"/>
<rect x="261.1" y="711.0" width="1.3" height="1.3" fill="#000"/>
<rect x="261.0" y="712.2" width="1.3" height="1.3" fill="#000"/>
<rect x="262.1" y="703.1" width="1.3" height="1.3" fill="#000"/>
<rect x="262.2" y="708.0" width="1.3" height="1.3" fill="#000"/>
<rect x="262.1" y="709.1" width="1.3" height="1.3" fill="#000"/>
<rect x="262.1" y="711.0" width="1.3" height="1.3" fill="#000"/>
<rect x="262.0" y="711.8" width="1.3" height="1.3" fill="#000"/>
<rect x="262.8" y="696.0" width="1.3" height="1.3" fill="#000"/>
<rect x="262.9" y="698.0" width="1.3" height="1.3" fill="#000"/>
<rect x="263.0" y="703.9" width="1.3" height="1.3" fill="#000"/>
<rect x="263.1" y="705.0" width="1.3" height="1.3" fill="#000"/>
<rect x="263.0" y="708.0" width="1.3" height="1.3" fill="#000"/>
<rect x="263.1" y="709.2" width="1.3" height="1.3" fill="#000"/>
<rect x="262.9" y="710.1" width="1.3" height="1.3" fill="#000"/>
<rect x="263.0" y="711.9" width="1.3" height="1.3" fill="#000"/>
<rect x="263.8" y="700.1" width="1.3" height="1.3" fill="#000"/>
<rect x="264.0" y="702.1" width="1.3" height="1.3" fill="#000"/>
<rect x="264.2" y="702.9" width="1.3" height="1.3" fill="#000"/>
<rect x="264.2" y="705.9" width="1.3" height="1.3" fill="#000"/>
<rect x="264.2" y="708.8" width="1.3" height="1.3" fill="#000"/>
<rect x="264.0" y="709.8" width="1.3" height="1.3" fill="#000"/>
<rect x="264.1" y="711.9" width="1.3" height="1.3" fill="#000"/>
<rect x="264.9" y="691.1" width="1.3" height="1.3" fill="#000"/>
<rect x="264.8" y="700.8" width="1.3" height="1.3" fill="#000"/>
<rect x="265.2" y="708.1" width="1.3" height="1.3" fill="#000"/>
<rect x="265.0" y="708.8" width="1.3" height="1.3" fill="#000"/>
<rect x="265.1" y="710.1" width="1.3" height="1.3" fill="#000"/>
<rect x="264.9" y="712.1" width="1.3" height="1.3" fill="#000"/>
<rect x="266.2" y="700.0" width="1.3" height="1.3" fill="#000"/>
<rect x="265.9" y="704.0" width="1.3" height="1.3" fill="#000"/>
<rect x="266.2" y="708.1" width="1.3" height="1.3" fill="#000"/>
<rect x="265.9" y="709.2" width="1.3" height="1.3" fill="#000"/>
<rect x="266.1" y="711.0" width="1.3" height="1.3" fill="#000"/>
<rect x="266.1" y="711.9" width="1.3" height="1.3" fill="#000"/>
<rect x="266.9" y="698.9" width="1.3" height="1.3" fill="#000"/>
<rect x="266.9" y="706.2" width="1.3" height="1.3" fill="#000"/>
<rect x="266.9" y="708.8" width="1.3" height="1.3" fill="#000"/>
<rect x="267.0" y="709.8" width="1.3" height="1.3" fill="#000"/>
<rect x="267.1" y="711.1" width="1.3" height="1.3" fill="#000"/>
<rect x="266.8" y="712.1" width="1.3" height="1.3" fill="#000"/>
<rect x="267.8" y="705.2" width="1.3" height="1.3" fill="#000"/>
<rect x="268.1" y="708.0" width="1.3" height="1.3" fill="#000"/>
<rect x="268.1" y="708.9" width="1.3" height="1.3" fill="#000"/>
<rect x="268.1" y="710.1" width="1.3" height="1.3" fill="#000"/>
<rect x="268.2" y="712.2" width="1.3" height="1.3" fill="#000"/>
<rect x="269.0" y="694.2" width="1.3" height="1.3" fill="#000"/>
<rect x="268.9" y="704.9" width="1.3" height="1.3" fill="#000"/>
<rect x="269.0" y="706.0" width="1.3" height="1.3" fill="#000"/>
<rect x="269.1" y="707.9" width="1.3" height="1.3" fill="#000"/>
<rect x="268.9" y="709.2" width="1.3" height="1.3" fill="#000"/>
<rect x="268.9" y="710.8" width="1.3" height="1.3" fill="#000"/>
<rect x="269.2" y="712.0" width="1.3" height="1.3" fill="#000"/>
<rect x="269.9" y="701.2" width="1.3" height="1.3" fill="#000"/>
<rect x="269.8" y="708.9" width="1.3" height="1.3" fill="#000"/>
<rect x="270.2" y="711.8" width="1.3" height="1.3" fill="#000"/>
<rect x="269.9" y="712.8" width="1.3" height="1.3" fill="#000"/>
<rect x="270.9" y="695.9" width="1.3" height="1.3" fill="#000"/>
<rect x="271.2" y="703.0" width="1.3" height="1.3" fill="#000"/>
<rect x="270.9" y="708.1" width="1.3" height="1.3" fill="#000"/>
<rect x="270.8" y="709.0" width="1.3" height="1.3" fill="#000"/>
<rect x="270.9" y="709.9" width="1.3" height="1.3" fill="#000"/>
<rect x="271.1" y="711.0" width="1.3" height="1.3" fill="#000"/>
<rect x="270.9" y="712.1" width="1.3" height="1.3" fill="#000"/>
<rect x="272.0" y="701.0" width="1.3" height="1.3" fill="#000"/>
<rect x="271.9" y="702.9" width="1.3" height="1.3" fill="#000"/>
<rect x="271.9" y="705.9" width="1.3" height="1.3" fill="#000"/>
<rect x="272.0" y="707.0" width="1.3" height="1.3" fill="#000"/>
<rect x="271.8" y="708.2" width="1.3" height="1.3" fill="#000"/>
<rect x="271.8" y="708.9" width="1.3" height="1.3" fill="#000"/>
<rect x="272.1" y="712.8" width="1.3" height="1.3" fill="#000"/>
<rect x="273.1" y="704.8" width="1.3" height="1.3" fill="#000"/>
<rect x="272.8" y="706.1" width="1.3" height="1.3" fill="#000"/>
<rect x="272.9" y="712.8" width="1.3" height="1.3" fill="#000"/>
<rect x="274.1" y="712.1" width="1.3" height="1.3" fill="#000"/>
<rect x="274.1" y="713.0" width="1.3" height="1.3" fill="#000"/>
<rect x="275.1" y="701.8" width="1.3" height="1.3" fill="#000"/>
<rect x="275.1" y="705.9" width="1.3" height="1.3" fill="#000"/>
<rect x="274.8" y="708.0" width="1.3" height="1.3" fill="#000"/>
<rect x="274.9" y="710.8" width="1.3" height="1.3" fill="#000"/>
<rect x="274.9" y="712.1" width="1.3" height="1.3" fill="#000"/>
<rect x="276.0" y="700.8" width="1.3" height="1.3" fill="#000"/>
<rect x="276.2" y="708.0" width="1.3" height="1.3" fill="#000"/>
<rect x="275.9" y="710.0" width="1.3" height="1.3" fill="#000"/>
<rect x="275.8" y="712.1" width="1.3" height="1.3" fill="#000"/>
<rect x="276.0" y="712.9" width="1.3" height="1.3" fill="#000"/>
<rect x="277.1" y="701.1" width="1.3" height="1.3" fill="#000"/>
<rect x="277.1" y="708.2" width="1.3" height="1.3" fill="#000"/>
<rect x="276.8" y="708.9" width="1.3" height="1.3" fill="#000"/>
<rect x="277.2" y="710.8" width="1.3" height="1.3" fill="#000"/>
<rect x="277.2" y="712.9" width="1.3" height="1.3" fill="#000"/>
<rect x="278.0" y="702.1" width="1.3" height="1.3" fill="#000"/>
<rect x="278.0" y="704.0" width="1.3" height="1.3" fill="#000"/>
<rect x="278.2" y="706.1" width="1.3" height="1.3" fill="#000"/>
<rect x="278.0" y="707.0" width="1.3" height="1.3" fill="#000"/>
<rect x="278.1" y="709.8" width="1.3" height="1.3" fill="#000"/>
<rect x="277.8" y="712.1" width="1.3" height="1.3" fill="#000"/>
<rect x="278.8" y="693.9" width="1.3" height="1.3" fill="#000"/>
<rect x="278.8" y="701.0" width="1.3" height="1.3" fill="#000"/>
<rect x="278.9" y="701.9" width="1.3" height="1.3" fill="#000"/>
<rect x="279.0" y="707.9" width="1.3" height="1.3" fill="#000"/>
<rect x="279.1" y="711.1" width="1.3" height="1.3" fill="#000"/>
<rect x="278.9" y="713.2" width="1.3" height="1.3" fill="#000"/>
<rect x="278.9" y="714.1" width="1.3" height="1.3" fill="#000"/>
<rect x="280.0" y="701.0" width="1.3" height="1.3" fill="#000"/>
<rect x="279.9" y="705.0" width="1.3" height="1.3" fill="#000"/>
<rect x="280.2" y="709.0" width="1.3" height="1.3" fill="#000"/>
<rect x="280.0" y="710.0" width="1.3" height="1.3" fill="#000"/>
<rect x="280.2" y="711.0" width="1.3" height="1.3" fill="#000"/>
<rect x="279.9" y="711.9" width="1.3" height="1.3" fill="#000"/>
<rect x="280.1" y="713.1" width="1.3" height="1.3" fill="#000"/>
<rect x="279.8" y="714.1" width="1.3" height="1.3" fill="#000"/>
<rect x="281.0" y="698.1" width="1.3" height="1.3" fill="#000"/>
<rect x="281.0" y="702.9" width="1.3" height="1.3" fill="#000"/>
<rect x="281.0" y="708.1" width="1.3" height="1.3" fill="#000"/>
<rect x="281.1" y="710.8" width="1.3" height="1.3" fill="#000"/>
<rect x="280.9" y="713.1" width="1.3" height="1.3" fill="#000"/>
<rect x="280.9" y="713.8" width="1.3" height="1.3" fill="#000"/>
<rect x="282.0" y="706.9" width="1.3" height="1.3" fill="#000"/>
<rect x="282.1" y="707.9" width="1.3" height="1.3" fill="#000"/>
<rect x="282.0" y="708.9" width="1.3" height="1.3" fill="#000"/>
<rect x="281.8" y="710.0" width="1.3" height="1.3" fill="#000"/>
<rect x="282.2" y="713.8" width="1.3" height="1.3" fill="#000"/>
<rect x="283.1" y="709.2" width="1.3" height="1.3" fill="#000"/>
<rect x="283.2" y="710.9" width="1.3" height="1.3" fill="#000"/>
<rect x="282.8" y="712.0" width="1.3" height="1.3" fill="#000"/>
<rect x="283.1" y="712.9" width="1.3" height="1.3" fill="#000"/>
<rect x="283.1" y="713.8" width="1.3" height="1.3" fill="#000"/>
<rect x="284.1" y="694.1" width="1.3" height="1.3" fill="#000"/>
<rect x="284.1" y="696.9" width="1.3" height="1.3" fill="#000"/>
<rect x="284.1" y="706.9" width="1.3" height="1.3" fill="#000"/>
<rect x="284.0" y="708.0" width="1.3" height="1.3" fill="#000"/>
<rect x="284.0" y="710.0" width="1.3" height="1.3" fill="#000"/>
<rect x="283.9" y="711.1" width="1.3" height="1.3" fill="#000"/>
<rect x="284.0" y="712.9" width="1.3" height="1.3" fill="#000"/>
<rect x="284.1" y="713.9" width="1.3" height="1.3" fill="#000"/>
<rect x="285.1" y="692.0" width="1.3" height="1.3" fill="#000"/>
<rect x="285.1" y="693.9" width="1.3" height="1.3" fill="#000"/>
<rect x="284.8" y="702.0" width="1.3" height="1.3" fill="#000"/>
<rect x="285.2" y="703.9" width="1.3" height="1.3" fill="#000"/>
<rect x="284.8" y="704.9" width="1.3" height="1.3" fill="#000"/>
<rect x="285.0" y="706.0" width="1.3" height="1.3" fill="#000"/>
<rect x="285.2" y="707.0" width="1.3" height="1.3" fill="#000"/>
<rect x="285.1" y="709.1" width="1.3" height="1.3" fill="#000"/>
<rect x="285.2" y="711.0" width="1.3" height="1.3" fill="#000"/>
<rect x="285.2" y="711.9" width="1.3" height="1.3" fill="#000"/>
<rect x="286.0" y="700.0" width="1.3" height="1.3" fill="#000"/>
<rect x="286.0" y="702.1" width="1.3" height="1.3" fill="#000"/>
<rect x="286.0" y="704.9" width="1.3" height="1.3" fill="#000"/>
<rect x="285.8" y="706.1" width="1.3" height="1.3" fill="#000"/>
<rect x="286.1" y="710.2" width="1.3" height="1.3" fill="#000"/>
<rect x="285.9" y="711.0" width="1.3" height="1.3" fill="#000"/>
<rect x="287.0" y="687.0" width="1.3" height="1.3" fill="#000"/>
<rect x="287.1" y="688.0" width="1.3" height="1.3" fill="#000"/>
<rect x="286.8" y="705.9" width="1.3" height="1.3" fill="#000"/>
<rect x="287.0" y="710.0" width="1.3" height="1.3" fill="#000"/>
<rect x="287.1" y="712.9" width="1.3" height="1.3" fill="#000"/>
<rect x="287.9" y="710.1" width="1.3" height="1.3" fill="#000"/>
<rect x="288.0" y="712.0" width="1.3" height="1.3" fill="#000"/>
<rect x="288.0" y="713.2" width="1.3" height="1.3" fill="#000"/>
<rect x="288.8" y="711.0" width="1.3" height="1.3" fill="#000"/>
<rect x="288.9" y="712.1" width="1.3" height="1.3" fill="#000"/>
<rect x="289.2" y="713.0" width="1.3" height="1.3" fill="#000"/>
<rect x="289.8" y="702.9" width="1.3" height="1.3" fill="#000"/>
<rect x="290.1" y="711.0" width="1.3" height="1.3" fill="#000"/>
<rect x="290.0" y="712.0" width="1.3" height="1.3" fill="#000"/>
<rect x="291.0" y="708.0" width="1.3" height="1.3" fill="#000"/>
<rect x="290.8" y="709.1" width="1.3" height="1.3" fill="#000"/>
<rect x="291.2" y="710.8" width="1.3" height="1.3" fill="#000"/>
<rect x="291.0" y="712.1" width="1.3" height="1.3" fill="#000"/>
<rect x="292.1" y="702.9" width="1.3" height="1.3" fill="#000"/>
<rect x="292.0" y="707.9" width="1.3" height="1.3" fill="#000"/>
<rect x="291.9" y="709.2" width="1.3" height="1.3" fill="#000"/>
<rect x="292.1" y="711.1" width="1.3" height="1.3" fill="#000"/>
<rect x="291.9" y="712.0" width="1.3" height="1.3" fill="#000"/>
<rect x="292.9" y="704.1" width="1.3" height="1.3" fill="#000"/>
<rect x="293.1" y="705.9" width="1.3" height="1.3" fill="#000"/>
<rect x="293.1" y="707.1" width="1.3" height="1.3" fill="#000"/>
<rect x="292.8" y="709.1" width="1.3" height="1.3" fill="#000"/>
<rect x="292.8" y="710.0" width="1.3" height="1.3" fill="#000"/>
<rect x="293.0" y="711.1" width="1.3" height="1.3" fill="#000"/>
<rect x="293.0" y="712.1" width="1.3" height="1.3" fill="#000"/>
<rect x="293.8" y="703.2" width="1.3" height="1.3" fill="#000"/>
<rect x="293.9" y="705.8" width="1.3" height="1.3" fill="#000"/>
<rect x="294.2" y="708.2" width="1.3" height="1.3" fill="#000"/>
<rect x="293.9" y="708.9" width="1.3" height="1.3" fill="#000"/>
<rect x="294.0" y="710.0" width="1.3" height="1.3" fill="#000"/>
<rect x="294.9" y="704.0" width="1.3" height="1.3" fill="#000"/>
<rect x="294.9" y="706.1" width="1.3" height="1.3" fill="#000"/>
<rect x="295.0" y="706.9" width="1.3" height="1.3" fill="#000"/>
<rect x="295.2" y="710.2" width="1.3" height="1.3" fill="#000"/>
<rect x="294.8" y="711.1" width="1.3" height="1.3" fill="#000"/>
<rect x="295.8" y="707.1" width="1.3" height="1.3" fill="#000"/>
<rect x="295.9" y="709.1" width="1.3" height="1.3" fill="#000"/>
<rect x="296.0" y="710.9" width="1.3" height="1.3" fill="#000"/>
<rect x="296.9" y="705.2" width="1.3" height="1.3" fill="#000"/>
<rect x="297.1" y="705.9" width="1.3" height="1.3" fill="#000"/>
<rect x="296.8" y="706.9" width="1.3" height="1.3" fill="#000"/>
<rect x="297.1" y="708.1" width="1.3" height="1.3" fill="#000"/>
<rect x="297.0" y="710.2" width="1.3" height="1.3" fill="#000"/>
<rect x="297.1" y="710.9" width="1.3" height="1.3" fill="#000"/>
<rect x="298.1" y="705.1" width="1.3" height="1.3" fill="#000"/>
<rect x="298.1" y="710.2" width="1.3" height="1.3" fill="#000"/>
<rect x="299.1" y="694.9" width="1.3" height="1.3" fill="#000"/>
<rect x="298.9" y="699.8" width="1.3" height="1.3" fill="#000"/>
<rect x="299.1" y="703.1" width="1.3" height="1.3" fill="#000"/>
<rect x="299.1" y="707.8" width="1.3" height="1.3" fill="#000"/>
<rect x="299.1" y="709.9" width="1.3" height="1.3" fill="#000"/>
<rect x="299.9" y="705.0" width="1.3" height="1.3" fill="#000"/>
<rect x="299.8" y="707.2" width="1.3" height="1.3" fill="#000"/>
<rect x="299.9" y="708.8" width="1.3" height="1.3" fill="#000"/>
<rect x="300.2" y="709.8" width="1.3" height="1.3" fill="#000"/>
<rect x="300.9" y="702.8" width="1.3" height="1.3" fill="#000"/>
<rect x="301.1" y="704.9" width="1.3" height="1.3" fill="#000"/>
<rect x="300.9" y="706.2" width="1.3" height="1.3" fill="#000"/>
<rect x="300.9" y="707.1" width="1.3" height="1.3" fill="#000"/>
<rect x="301.0" y="708.0" width="1.3" height="1.3" fill="#000"/>
<rect x="301.0" y="708.9" width="1.3" height="1.3" fill="#000"/>
<rect x="301.1" y="709.9" width="1.3" height="1.3" fill="#000"/>
<rect x="302.0" y="704.2" width="1.3" height="1.3" fill="#000"/>
<rect x="302.2" y="705.0" width="1.3" height="1.3" fill="#000"/>
<rect x="302.0" y="705.8" width="1.3" height="1.3" fill="#000"/>
<rect x="302.1" y="706.9" width="1.3" height="1.3" fill="#000"/>
<rect x="302.1" y="709.1" width="1.3" height="1.3" fill="#000"/>
<rect x="302.0" y="709.9" width="1.3" height="1.3" fill="#000"/>
<rect x="303.1" y="703.0" width="1.3" height="1.3" fill="#000"/>
<rect x="302.9" y="704.9" width="1.3" height="1.3" fill="#000"/>
<rect x="303.0" y="706.2" width="1.3" height="1.3" fill="#000"/>
<rect x="303.0" y="707.0" width="1.3" height="1.3" fill="#000"/>
<rect x="302.8" y="708.1" width="1.3" height="1.3" fill="#000"/>
<rect x="302.9" y="709.1" width="1.3" height="1.3" fill="#000"/>
<rect x="304.1" y="692.1" width="1.3" height="1.3" fill="#000"/>
<rect x="304.1" y="704.0" width="1.3" height="1.3" fill="#000"/>
<rect x="303.9" y="706.2" width="1.3" height="1.3" fill="#000"/>
<rect x="304.1" y="707.8" width="1.3" height="1.3" fill="#000"/>
<rect x="304.0" y="708.9" width="1.3" height="1.3" fill="#000"/>
<rect x="304.9" y="702.8" width="1.3" height="1.3" fill="#000"/>
<rect x="305.1" y="707.9" width="1.3" height="1.3" fill="#000"/>
<rect x="305.1" y="708.9" width="1.3" height="1.3" fill="#000"/>
<rect x="306.0" y="685.1" width="1.3" height="1.3" fill="#000"/>
<rect x="306.1" y="689.8" width="1.3" height="1.3" fill="#000"/>
<rect x="305.9" y="694.0" width="1.3" height="1.3" fill="#000"/>
<rect x="305.8" y="704.1" width="1.3" height="1.3" fill="#000"/>
<rect x="305.9" y="708.1" width="1.3" height="1.3" fill="#000"/>
<rect x="306.1" y="709.2" width="1.3" height="1.3" fill="#000"/>
<rect x="306.9" y="701.0" width="1.3" height="1.3" fill="#000"/>
<rect x="307.0" y="705.0" width="1.3" height="1.3" fill="#000"/>
<rect x="306.9" y="706.9" width="1.3" height="1.3" fill="#000"/>
<rect x="306.9" y="709.1" width="1.3" height="1.3" fill="#000"/>
<rect x="308.2" y="707.8" width="1.3" height="1.3" fill="#000"/>
<rect x="308.9" y="688.9" width="1.3" height="1.3" fill="#000"/>
<rect x="309.0" y="704.0" width="1.3" height="1.3" fill="#000"/>
<rect x="309.0" y="705.0" width="1.3" height="1.3" fill="#000"/>
<rect x="308.8" y="707.0" width="1.3" height="1.3" fill="#000"/>
<rect x="308.8" y="708.0" width="1.3" height="1.3" fill="#000"/>
<rect x="310.0" y="703.8" width="1.3" height="1.3" fill="#000"/>
<rect x="309.8" y="705.9" width="1.3" height="1.3" fill="#000"/>
<rect x="309.9" y="707.2" width="1.3" height="1.3" fill="#000"/>
<rect x="309.8" y="707.8" width="1.3" height="1.3" fill="#000"/>
<rect x="311.0" y="692.8" width="1.3" height="1.3" fill="#000"/>
<rect x="311.0" y="703.2" width="1.3" height="1.3" fill="#000"/>
<rect x="311.2" y="704.0" width="1.3" height="1.3" fill="#000"/>
<rect x="310.8" y="704.9" width="1.3" height="1.3" fill="#000"/>
<rect x="310.9" y="706.0" width="1.3" height="1.3" fill="#000"/>
<rect x="310.8" y="707.8" width="1.3" height="1.3" fill="#000"/>
<rect x="312.0" y="703.8" width="1.3" height="1.3" fill="#000"/>
<rect x="312.1" y="705.0" width="1.3" height="1.3" fill="#000"/>
<rect x="312.9" y="697.1" width="1.3" height="1.3" fill="#000"/>
<rect x="313.1" y="697.9" width="1.3" height="1.3" fill="#000"/>
<rect x="313.0" y="701.1" width="1.3" height="1.3" fill="#000"/>
<rect x="313.0" y="703.1" width="1.3" height="1.3" fill="#000"/>
<rect x="313.0" y="704.8" width="1.3" height="1.3" fill="#000"/>
<rect x="312.9" y="706.0" width="1.3" height="1.3" fill="#000"/>
<rect x="312.9" y="707.2" width="1.3" height="1.3" fill="#000"/>
<rect x="314.1" y="697.2" width="1.3" height="1.3" fill="#000"/>
<rect x="314.0" y="700.2" width="1.3" height="1.3" fill="#000"/>
<rect x="313.9" y="700.9" width="1.3" height="1.3" fill="#000"/>
<rect x="313.9" y="702.2" width="1.3" height="1.3" fill="#000"/>
<rect x="314.2" y="705.9" width="1.3" height="1.3" fill="#000"/>
<rect x="314.2" y="706.9" width="1.3" height="1.3" fill="#000"/>
<rect x="315.0" y="696.9" width="1.3" height="1.3" fill="#000"/>
<rect x="315.1" y="700.0" width="1.3" height="1.3" fill="#000"/>
<rect x="315.2" y="704.2" width="1.3" height="1.3" fill="#000"/>
<rect x="315.2" y="705.1" width="1.3" height="1.3" fill="#000"/>
<rect x="315.0" y="706.1" width="1.3" height="1.3" fill="#000"/>
<rect x="316.1" y="688.0" width="1.3" height="1.3" fill="#000"/>
<rect x="315.9" y="703.0" width="1.3" height="1.3" fill="#000"/>
<rect x="316.1" y="703.9" width="1.3" height="1.3" fill="#000"/>
<rect x="315.9" y="704.9" width="1.3" height="1.3" fill="#000"/>
<rect x="316.0" y="705.9" width="1.3" height="1.3" fill="#000"/>
<rect x="317.1" y="699.1" width="1.3" height="1.3" fill="#000"/>
<rect x="317.1" y="700.1" width="1.3" height="1.3" fill="#000"/>
<rect x="316.9" y="702.8" width="1.3" height="1.3" fill="#000"/>
<rect x="317.2" y="703.9" width="1.3" height="1.3" fill="#000"/>
<rect x="316.9" y="705.1" width="1.3" height="1.3" fill="#000"/>
<rect x="316.9" y="706.1" width="1.3" height="1.3" fill="#000"/>
<rect x="318.1" y="700.1" width="1.3" height="1.3" fill="#000"/>
<rect x="317.9" y="702.1" width="1.3" height="1.3" fill="#000"/>
<rect x="318.1" y="704.0" width="1.3" height="1.3" fill="#000"/>
<rect x="318.0" y="704.9" width="1.3" height="1.3" fill="#000"/>
<rect x="318.2" y="706.1" width="1.3" height="1.3" fill="#000"/>
<rect x="319.0" y="698.8" width="1.3" height="1.3" fill="#000"/>
<rect x="318.8" y="700.1" width="1.3" height="1.3" fill="#000"/>
<rect x="319.0" y="702.0" width="1.3" height="1.3" fill="#000"/>
<rect x="318.9" y="703.0" width="1.3" height="1.3" fill="#000"/>
<rect x="319.1" y="704.0" width="1.3" height="1.3" fill="#000"/>
<rect x="318.8" y="705.1" width="1.3" height="1.3" fill="#000"/>
<rect x="319.1" y="706.1" width="1.3" height="1.3" fill="#000"/>
<rect x="319.9" y="697.2" width="1.3" height="1.3" fill="#000"/>
<rect x="320.0" y="699.1" width="1.3" height="1.3" fill="#000"/>
<rect x="320.1" y="700.8" width="1.3" height="1.3" fill="#000"/>
<rect x="319.9" y="704.0" width="1.3" height="1.3" fill="#000"/>
<rect x="320.2" y="704.9" width="1.3" height="1.3" fill="#000"/>
<rect x="321.1" y="700.0" width="1.3" height="1.3" fill="#000"/>
<rect x="320.8" y="702.0" width="1.3" height="1.3" fill="#000"/>
<rect x="320.9" y="703.1" width="1.3" height="1.3" fill="#000"/>
<rect x="321.1" y="704.2" width="1.3" height="1.3" fill="#000"/>
<rect x="321.2" y="705.2" width="1.3" height="1.3" fill="#000"/>
<rect x="322.1" y="687.8" width="1.3" height="1.3" fill="#000"/>
<rect x="321.9" y="693.9" width="1.3" height="1.3" fill="#000"/>
<rect x="321.9" y="696.0" width="1.3" height="1.3" fill="#000"/>
<rect x="322.1" y="696.9" width="1.3" height="1.3" fill="#000"/>
<rect x="322.1" y="701.8" width="1.3" height="1.3" fill="#000"/>
<rect x="323.1" y="693.0" width="1.3" height="1.3" fill="#000"/>
<rect x="322.8" y="698.8" width="1.3" height="1.3" fill="#000"/>
<rect x="322.9" y="700.0" width="1.3" height="1.3" fill="#000"/>
<rect x="323.2" y="700.8" width="1.3" height="1.3" fill="#000"/>
<rect x="323.1" y="702.1" width="1.3" height="1.3" fill="#000"/>
<rect x="323.1" y="702.9" width="1.3" height="1.3" fill="#000"/>
<rect x="323.1" y="703.8" width="1.3" height="1.3" fill="#000"/>
<rect x="323.9" y="696.1" width="1.3" height="1.3" fill="#000"/>
<rect x="324.0" y="700.8" width="1.3" height="1.3" fill="#000"/>
<rect x="323.9" y="702.2" width="1.3" height="1.3" fill="#000"/>
<rect x="324.2" y="703.9" width="1.3" height="1.3" fill="#000"/>
<rect x="325.0" y="698.1" width="1.3" height="1.3" fill="#000"/>
<rect x="325.0" y="701.1" width="1.3" height="1.3" fill="#000"/>
<rect x="324.8" y="703.1" width="1.3" height="1.3" fill="#000"/>
<rect x="324.8" y="703.9" width="1.3" height="1.3" fill="#000"/>
<rect x="326.2" y="682.8" width="1.3" height="1.3" fill="#000"/>
<rect x="326.2" y="688.8" width="1.3" height="1.3" fill="#000"/>
<rect x="326.1" y="692.9" width="1.3" height="1.3" fill="#000"/>
<rect x="325.9" y="696.9" width="1.3" height="1.3" fill="#000"/>
<rect x="326.1" y="697.9" width="1.3" height="1.3" fill="#000"/>
<rect x="326.2" y="701.1" width="1.3" height="1.3" fill="#000"/>
<rect x="326.1" y="703.0" width="1.3" height="1.3" fill="#000"/>
<rect x="325.8" y="704.1" width="1.3" height="1.3" fill="#000"/>
<rect x="327.0" y="692.2" width="1.3" height="1.3" fill="#000"/>
<rect x="327.1" y="700.2" width="1.3" height="1.3" fill="#000"/>
<rect x="327.1" y="701.0" width="1.3" height="1.3" fill="#000"/>
<rect x="326.9" y="704.2" width="1.3" height="1.3" fill="#000"/>
<rect x="327.9" y="691.1" width="1.3" height="1.3" fill="#000"/>
<rect x="328.0" y="697.2" width="1.3" height="1.3" fill="#000"/>
<rect x="327.9" y="701.1" width="1.3" height="1.3" fill="#000"/>
<rect x="327.9" y="702.0" width="1.3" height="1.3" fill="#000"/>
<rect x="327.8" y="703.1" width="1.3" height="1.3" fill="#000"/>
<rect x="328.0" y="704.2" width="1.3" height="1.3" fill="#000"/>
<rect x="329.1" y="690.1" width="1.3" height="1.3" fill="#000"/>
<rect x="329.1" y="697.1" width="1.3" height="1.3" fill="#000"/>
<rect x="329.1" y="698.1" width="1.3" height="1.3" fill="#000"/>
<rect x="329.2" y="699.2" width="1.3" height="1.3" fill="#000"/>
<rect x="328.8" y="701.1" width="1.3" height="1.3" fill="#000"/>
<rect x="328.8" y="703.0" width="1.3" height="1.3" fill="#000"/>
<rect x="328.9" y="704.0" width="1.3" height="1.3" fill="#000"/>
<rect x="330.1" y="695.9" width="1.3" height="1.3" fill="#000"/>
<rect x="329.9" y="697.0" width="1.3" height="1.3" fill="#000"/>
<rect x="330.2" y="699.9" width="1.3" height="1.3" fill="#000"/>
<rect x="330.1" y="701.0" width="1.3" height="1.3" fill="#000"/>
<rect x="330.0" y="702.1" width="1.3" height="1.3" fill="#000"/>
<rect x="330.1" y="703.2" width="1.3" height="1.3" fill="#000"/>
<rect x="330.0" y="704.2" width="1.3" height="1.3" fill="#000"/>
<rect x="330.1" y="704.8" width="1.3" height="1.3" fill="#000"/>
<rect x="330.0" y="706.1" width="1.3" height="1.3" fill="#000"/>
<rect x="330.1" y="706.8" width="1.3" height="1.3" fill="#000"/>
<rect x="330.1" y="709.1" width="1.3" height="1.3" fill="#000"/>
<rect x="330.1" y="710.1" width="1.3" height="1.3" fill="#000"/>
<rect x="329.8" y="711.1" width="1.3" height="1.3" fill="#000"/>
<rect x="329.9" y="713.1" width="1.3" height="1.3" fill="#000"/>
<rect x="329.8" y="715.0" width="1.3" height="1.3" fill="#000"/>
<rect x="329.9" y="716.1" width="1.3" height="1.3" fill="#000"/>
<rect x="330.0" y="717.0" width="1.3" height="1.3" fill="#000"/>
<rect x="330.2" y="717.9" width="1.3" height="1.3" fill="#000"/>
<rect x="330.2" y="719.0" width="1.3" height="1.3" fill="#000"/>
<rect x="329.8" y="724.0" width="1.3" height="1.3" fill="#000"/>
<rect x="330.0" y="725.2" width="1.3" height="1.3" fill="#000"/>
<rect x="330.0" y="729.0" width="1.3" height="1.3" fill="#000"/>
<rect x="330.2" y="729.8" width="1.3" height="1.3" fill="#000"/>
<rect x="329.8" y="733.0" width="1.3" height="1.3" fill="#000"/>
<rect x="330.2" y="734.0" width="1.3" height="1.3" fill="#000"/>
<rect x="330.1" y="735.0" width="1.3" height="1.3" fill="#000"/>
<rect x="330.9" y="701.9" width="1.3" height="1.3" fill="#000"/>
<rect x="330.9" y="705.0" width="1.3" height="1.3" fill="#000"/>
<rect x="331.1" y="706.1" width="1.3" height="1.3" fill="#000"/>
<rect x="330.9" y="707.1" width="1.3" height="1.3" fill="#000"/>
<rect x="331.1" y="709.1" width="1.3" height="1.3" fill="#000"/>
<rect x="330.9" y="712.2" width="1.3" height="1.3" fill="#000"/>
<rect x="330.8" y="716.8" width="1.3" height="1.3" fill="#000"/>
<rect x="330.9" y="718.9" width="1.3" height="1.3" fill="#000"/>
<rect x="331.0" y="725.2" width="1.3" height="1.3" fill="#000"/>
<rect x="331.2" y="728.8" width="1.3" height="1.3" fill="#000"/>
<rect x="331.0" y="732.9" width="1.3" height="1.3" fill="#000"/>
<rect x="331.0" y="735.0" width="1.3" height="1.3" fill="#000"/>
<rect x="331.9" y="696.9" width="1.3" height="1.3" fill="#000"/>
<rect x="332.1" y="700.1" width="1.3" height="1.3" fill="#000"/>
<rect x="331.9" y="700.9" width="1.3" height="1.3" fill="#000"/>
<rect x="332.1" y="703.2" width="1.3" height="1.3" fill="#000"/>
<rect x="332.0" y="705.1" width="1.3" height="1.3" fill="#000"/>
<rect x="331.8" y="706.0" width="1.3" height="1.3" fill="#000"/>
<rect x="332.1" y="707.8" width="1.3" height="1.3" fill="#000"/>
<rect x="332.0" y="711.0" width="1.3" height="1.3" fill="#000"/>
<rect x="332.0" y="716.1" width="1.3" height="1.3" fill="#000"/>
<rect x="332.1" y="717.9" width="1.3" height="1.3" fill="#000"/>
<rect x="332.1" y="720.0" width="1.3" height="1.3" fill="#000"/>
<rect x="332.1" y="723.2" width="1.3" height="1.3" fill="#000"/>
<rect x="332.1" y="724.1" width="1.3" height="1.3" fill="#000"/>
<rect x="332.1" y="724.9" width="1.3" height="1.3" fill="#000"/>
<rect x="332.0" y="727.2" width="1.3" height="1.3" fill="#000"/>
<rect x="331.9" y="729.9" width="1.3" height="1.3" fill="#000"/>
<rect x="332.9" y="690.2" width="1.3" height="1.3" fill="#000"/>
<rect x="333.0" y="693.8" width="1.3" height="1.3" fill="#000"/>
<rect x="332.9" y="696.8" width="1.3" height="1.3" fill="#000"/>
<rect x="333.2" y="702.0" width="1.3" height="1.3" fill="#000"/>
<rect x="333.0" y="731.9" width="1.3" height="1.3" fill="#000"/>
<rect x="333.1" y="733.8" width="1.3" height="1.3" fill="#000"/>
<rect x="332.9" y="734.9" width="1.3" height="1.3" fill="#000"/>
<rect x="333.8" y="692.9" width="1.3" height="1.3" fill="#000"/>
<rect x="333.9" y="701.9" width="1.3" height="1.3" fill="#000"/>
<rect x="334.2" y="710.0" width="1.3" height="1.3" fill="#000"/>
<rect x="333.9" y="715.0" width="1.3" height="1.3" fill="#000"/>
<rect x="334.9" y="694.0" width="1.3" height="1.3" fill="#000"/>
<rect x="335.2" y="722.1" width="1.3" height="1.3" fill="#000"/>
<rect x="336.0" y="717.8" width="1.3" height="1.3" fill="#000"/>
<rect x="343.2" y="706.8" width="1.3" height="1.3" fill="#000"/>
<rect x="252.0" y="701.5" width="1.1" height="1.1" fill="#000"/>
<rect x="274.1" y="691.4" width="1.1" height="1.1" fill="#000"/>
<rect x="257.7" y="694.8" width="1.1" height="1.1" fill="#000"/>
<rect x="250.1" y="707.9" width="1.1" height="1.1" fill="#000"/>
<rect x="246.1" y="703.2" width="1.1" height="1.1" fill="#000"/>
<rect x="275.4" y="701.6" width="1.1" height="1.1" fill="#000"/>
<rect x="246.7" y="689.5" width="1.1" height="1.1" fill="#000"/>
<rect x="244.4" y="706.1" width="1.1" height="1.1" fill="#000"/>
<rect x="268.7" y="705.5" width="1.1" height="1.1" fill="#000"/>
<rect x="248.3" y="705.7" width="1.1" height="1.1" fill="#000"/>
<rect x="257.2" y="699.2" width="1.1" height="1.1" fill="#000"/>
<rect x="280.4" y="690.0" width="1.1" height="1.1" fill="#000"/>
<rect x="270.8" y="686.2" width="1.1" height="1.1" fill="#000"/>
<rect x="245.5" y="694.8" width="1.1" height="1.1" fill="#000"/>
<rect x="249.5" y="703.6" width="1.1" height="1.1" fill="#000"/>
<rect x="265.2" y="688.9" width="1.1" height="1.1" fill="#000"/>
<rect x="248.5" y="696.1" width="1.1" height="1.1" fill="#000"/>
<rect x="275.5" y="699.3" width="1.1" height="1.1" fill="#000"/>
<rect x="276.3" y="694.4" width="1.1" height="1.1" fill="#000"/>
<rect x="275.4" y="690.9" width="1.1" height="1.1" fill="#000"/>
<rect x="281.4" y="692.8" width="1.1" height="1.1" fill="#000"/>
<rect x="277.0" y="702.6" width="1.1" height="1.1" fill="#000"/>
<rect x="266.6" y="691.9" width="1.1" height="1.1" fill="#000"/>
<rect x="253.1" y="694.2" width="1.1" height="1.1" fill="#000"/>
<rect x="276.7" y="699.2" width="1.1" height="1.1" fill="#000"/>
<rect x="268.9" y="692.3" width="1.1" height="1.1" fill="#000"/>
<rect x="256.0" y="700.9" width="1.1" height="1.1" fill="#000"/>
<rect x="249.7" y="686.4" width="1.1" height="1.1" fill="#000"/>
<rect x="264.8" y="704.2" width="1.1" height="1.1" fill="#000"/>
<rect x="244.3" y="687.9" width="1.1" height="1.1" fill="#000"/>
<rect x="313.9" y="690.0" width="1.1" height="1.1" fill="#000"/>
<rect x="324.7" y="691.6" width="1.1" height="1.1" fill="#000"/>
<rect x="313.3" y="684.4" width="1.1" height="1.1" fill="#000"/>
<rect x="300.5" y="689.2" width="1.1" height="1.1" fill="#000"/>
<rect x="308.4" y="688.0" width="1.1" height="1.1" fill="#000"/>
<rect x="284.3" y="703.9" width="1.1" height="1.1" fill="#000"/>
<rect x="307.6" y="691.3" width="1.1" height="1.1" fill="#000"/>
<rect x="295.9" y="685.3" width="1.1" height="1.1" fill="#000"/>
<rect x="296.2" y="700.4" width="1.1" height="1.1" fill="#000"/>
<rect x="329.8" y="694.9" width="1.1" height="1.1" fill="#000"/>
<rect x="329.9" y="697.0" width="1.1" height="1.1" fill="#000"/>
<rect x="311.9" y="690.1" width="1.1" height="1.1" fill="#000"/>
<rect x="290.6" y="702.7" width="1.1" height="1.1" fill="#000"/>
<rect x="304.4" y="696.0" width="1.1" height="1.1" fill="#000"/>
<rect x="295.0" y="692.2" width="1.1" height="1.1" fill="#000"/>
<rect x="284.9" y="693.5" width="1.1" height="1.1" fill="#000"/>
<rect x="289.4" y="694.6" width="1.1" height="1.1" fill="#000"/>
<rect x="334.7" y="694.0" width="1.1" height="1.1" fill="#000"/>
<rect x="301.3" y="685.6" width="1.1" height="1.1" fill="#000"/>
<rect x="288.7" y="699.0" width="1.1" height="1.1" fill="#000"/>
<rect x="284.0" y="707.5" width="1.1" height="1.1" fill="#000"/>
<rect x="297.7" y="696.9" width="1.1" height="1.1" fill="#000"/>
<rect x="294.8" y="699.3" width="1.1" height="1.1" fill="#000"/>
<rect x="321.5" y="697.5" width="1.1" height="1.1" fill="#000"/>
<rect x="324.0" y="691.3" width="1.1" height="1.1" fill="#000"/>
<rect x="247.0" y="651.0" width="1.2" height="1.2" fill="#000"/>
<rect x="249.0" y="655.0" width="1.2" height="1.2" fill="#000"/>
<rect x="251.0" y="663.0" width="1.2" height="1.2" fill="#000"/>
<rect x="262.0" y="663.0" width="1.2" height="1.2" fill="#000"/>
<rect x="265.0" y="669.0" width="1.2" height="1.2" fill="#000"/>
<rect x="268.0" y="674.0" width="1.2" height="1.2" fill="#000"/>
<rect x="258.0" y="675.0" width="1.2" height="1.2" fill="#000"/>
<rect x="261.0" y="678.0" width="1.2" height="1.2" fill="#000"/>
<rect x="253.0" y="678.0" width="1.2" height="1.2" fill="#000"/>
<rect x="274.0" y="674.0" width="1.2" height="1.2" fill="#000"/>
<rect x="262.0" y="664.0" width="1.2" height="1.2" fill="#000"/>
<rect x="312.0" y="663.6" width="1.0" height="1.0" fill="#000"/>
<rect x="313.0" y="666.5" width="1.3" height="1.3" fill="#000"/>
<rect x="309.3" y="672.2" width="1.6" height="1.6" fill="#000"/>
<rect x="310.6" y="660.0" width="1.0" height="1.0" fill="#000"/>
<rect x="308.4" y="670.8" width="1.6" height="1.6" fill="#000"/>
<rect x="307.3" y="673.9" width="1.6" height="1.6" fill="#000"/>
<rect x="308.0" y="665.4" width="1.0" height="1.0" fill="#000"/>
<rect x="309.0" y="664.5" width="1.0" height="1.0" fill="#000"/>
<rect x="313.5" y="663.1" width="1.3" height="1.3" fill="#000"/>
<rect x="308.7" y="671.6" width="1.6" height="1.6" fill="#000"/>
<rect x="312.4" y="672.6" width="1.0" height="1.0" fill="#000"/>
<rect x="316.8" y="666.7" width="1.6" height="1.6" fill="#000"/>
<rect x="315.7" y="665.5" width="1.3" height="1.3" fill="#000"/>
<rect x="312.0" y="666.8" width="1.3" height="1.3" fill="#000"/>
<rect x="311.4" y="667.5" width="1.6" height="1.6" fill="#000"/>
<rect x="313.3" y="664.7" width="1.0" height="1.0" fill="#000"/>
<rect x="314.4" y="664.5" width="1.3" height="1.3" fill="#000"/>
<rect x="309.1" y="676.5" width="1.6" height="1.6" fill="#000"/>
<rect x="318.9" y="667.3" width="1.3" height="1.3" fill="#000"/>
<rect x="313.6" y="666.2" width="1.3" height="1.3" fill="#000"/>
<rect x="311.2" y="669.4" width="1.6" height="1.6" fill="#000"/>
<rect x="311.6" y="664.4" width="1.6" height="1.6" fill="#000"/>
<rect x="313.2" y="670.9" width="1.6" height="1.6" fill="#000"/>
<rect x="318.2" y="667.8" width="1.3" height="1.3" fill="#000"/>
<rect x="311.3" y="665.5" width="1.3" height="1.3" fill="#000"/>
<rect x="310.6" y="663.9" width="1.0" height="1.0" fill="#000"/>
<rect x="315.1" y="667.9" width="1.0" height="1.0" fill="#000"/>
<rect x="308.6" y="668.9" width="1.3" height="1.3" fill="#000"/>
<rect x="323.2" y="658.5" width="1.0" height="1.0" fill="#000"/>
<rect x="310.0" y="665.2" width="1.3" height="1.3" fill="#000"/>
<rect x="314.7" y="666.6" width="1.3" height="1.3" fill="#000"/>
<rect x="311.1" y="666.5" width="1.0" height="1.0" fill="#000"/>
<rect x="309.9" y="668.9" width="1.3" height="1.3" fill="#000"/>
<rect x="308.6" y="666.9" width="1.6" height="1.6" fill="#000"/>
<rect x="311.6" y="666.2" width="1.3" height="1.3" fill="#000"/>
<rect x="311.9" y="668.0" width="1.6" height="1.6" fill="#000"/>
<rect x="317.6" y="660.7" width="1.6" height="1.6" fill="#000"/>
<rect x="319.3" y="661.8" width="1.6" height="1.6" fill="#000"/>
<rect x="314.9" y="660.2" width="1.6" height="1.6" fill="#000"/>
<rect x="310.3" y="668.1" width="1.0" height="1.0" fill="#000"/>
<rect x="304.7" y="671.0" width="1.3" height="1.3" fill="#000"/>
<rect x="305.8" y="669.4" width="1.6" height="1.6" fill="#000"/>
<rect x="312.5" y="663.8" width="1.0" height="1.0" fill="#000"/>
<rect x="313.0" y="662.0" width="1.6" height="1.6" fill="#000"/>
<rect x="308.1" y="671.6" width="1.3" height="1.3" fill="#000"/>
<rect x="304.3" y="673.2" width="1.0" height="1.0" fill="#000"/>
<rect x="320.5" y="659.7" width="1.0" height="1.0" fill="#000"/>
<rect x="319.1" y="661.2" width="1.6" height="1.6" fill="#000"/>
<rect x="310.7" y="668.8" width="1.6" height="1.6" fill="#000"/>
<rect x="318.8" y="661.1" width="1.3" height="1.3" fill="#000"/>
<rect x="310.2" y="668.7" width="1.0" height="1.0" fill="#000"/>
<rect x="306.9" y="671.5" width="1.0" height="1.0" fill="#000"/>
<rect x="307.1" y="672.0" width="1.3" height="1.3" fill="#000"/>
<rect x="310.7" y="667.9" width="1.0" height="1.0" fill="#000"/>
<rect x="314.5" y="674.3" width="1.3" height="1.3" fill="#000"/>
<rect x="316.1" y="667.1" width="1.0" height="1.0" fill="#000"/>
<rect x="312.7" y="664.1" width="1.3" height="1.3" fill="#000"/>
<rect x="306.7" y="668.3" width="1.6" height="1.6" fill="#000"/>
<rect x="310.6" y="667.2" width="1.6" height="1.6" fill="#000"/>
<rect x="308.1" y="675.6" width="1.3" height="1.3" fill="#000"/>
<rect x="312.1" y="668.9" width="1.0" height="1.0" fill="#000"/>
<rect x="313.3" y="666.0" width="1.0" height="1.0" fill="#000"/>
<rect x="312.2" y="666.1" width="1.6" height="1.6" fill="#000"/>
<rect x="309.0" y="672.4" width="1.6" height="1.6" fill="#000"/>
<rect x="316.5" y="664.3" width="1.3" height="1.3" fill="#000"/>
<rect x="318.8" y="658.6" width="1.3" height="1.3" fill="#000"/>
<rect x="317.3" y="667.4" width="1.3" height="1.3" fill="#000"/>
<rect x="308.0" y="666.6" width="1.3" height="1.3" fill="#000"/>
<rect x="320.7" y="668.2" width="1.6" height="1.6" fill="#000"/>
<rect x="311.9" y="672.5" width="1.6" height="1.6" fill="#000"/>
<rect x="304.9" y="674.1" width="1.6" height="1.6" fill="#000"/>
<rect x="323.2" y="660.9" width="1.3" height="1.3" fill="#000"/>
<rect x="302.3" y="675.6" width="1.3" height="1.3" fill="#000"/>
<rect x="315.1" y="664.9" width="1.3" height="1.3" fill="#000"/>
<rect x="299.8" y="673.5" width="1.0" height="1.0" fill="#000"/>
<rect x="321.3" y="659.3" width="1.0" height="1.0" fill="#000"/>
<rect x="315.7" y="666.9" width="1.3" height="1.3" fill="#000"/>
<rect x="311.0" y="668.2" width="1.3" height="1.3" fill="#000"/>
<rect x="316.1" y="663.9" width="1.3" height="1.3" fill="#000"/>
<rect x="318.2" y="665.5" width="1.0" height="1.0" fill="#000"/>
<rect x="309.9" y="666.8" width="1.3" height="1.3" fill="#000"/>
<rect x="313.2" y="669.3" width="1.6" height="1.6" fill="#000"/>
<rect x="304.9" y="674.2" width="1.3" height="1.3" fill="#000"/>
<rect x="307.6" y="672.3" width="1.6" height="1.6" fill="#000"/>
<rect x="310.5" y="669.5" width="1.6" height="1.6" fill="#000"/>
<rect x="326.8" y="658.6" width="1.3" height="1.3" fill="#000"/>
<rect x="311.9" y="670.5" width="1.6" height="1.6" fill="#000"/>
<rect x="307.7" y="669.7" width="1.0" height="1.0" fill="#000"/>
<rect x="310.6" y="670.4" width="1.6" height="1.6" fill="#000"/>
<rect x="309.5" y="673.5" width="1.6" height="1.6" fill="#000"/>
<rect x="313.7" y="669.2" width="1.6" height="1.6" fill="#000"/>
<rect x="295.4" y="676.0" width="1.0" height="1.0" fill="#000"/>
<rect x="308.2" y="670.2" width="1.6" height="1.6" fill="#000"/>
<rect x="311.7" y="667.8" width="1.3" height="1.3" fill="#000"/>
<rect x="316.1" y="665.0" width="1.0" height="1.0" fill="#000"/>
<rect x="310.6" y="673.8" width="1.6" height="1.6" fill="#000"/>
<rect x="315.1" y="655.5" width="1.0" height="1.0" fill="#000"/>
<rect x="308.3" y="667.4" width="1.0" height="1.0" fill="#000"/>
<rect x="307.3" y="663.9" width="1.6" height="1.6" fill="#000"/>
<rect x="319.3" y="657.1" width="1.6" height="1.6" fill="#000"/>
<rect x="316.0" y="663.1" width="1.6" height="1.6" fill="#000"/>
<rect x="319.6" y="655.8" width="1.6" height="1.6" fill="#000"/>
<rect x="310.8" y="671.6" width="1.0" height="1.0" fill="#000"/>
<rect x="309.0" y="666.4" width="1.3" height="1.3" fill="#000"/>
<rect x="309.7" y="666.4" width="1.3" height="1.3" fill="#000"/>
<rect x="304.8" y="673.3" width="1.3" height="1.3" fill="#000"/>
<rect x="314.3" y="666.7" width="1.3" height="1.3" fill="#000"/>
<rect x="307.1" y="667.1" width="1.6" height="1.6" fill="#000"/>
<rect x="318.2" y="664.0" width="1.3" height="1.3" fill="#000"/>
<rect x="318.4" y="659.5" width="1.0" height="1.0" fill="#000"/>
<rect x="314.3" y="667.6" width="1.0" height="1.0" fill="#000"/>
<rect x="315.2" y="666.3" width="1.0" height="1.0" fill="#000"/>
<rect x="308.1" y="667.3" width="1.6" height="1.6" fill="#000"/>
<rect x="317.4" y="670.7" width="1.3" height="1.3" fill="#000"/>
<rect x="314.7" y="662.4" width="1.3" height="1.3" fill="#000"/>
<rect x="311.5" y="664.1" width="1.0" height="1.0" fill="#000"/>
<rect x="305.4" y="676.2" width="1.0" height="1.0" fill="#000"/>
<rect x="309.5" y="662.6" width="1.3" height="1.3" fill="#000"/>
<rect x="312.2" y="669.8" width="1.3" height="1.3" fill="#000"/>
<rect x="315.5" y="660.5" width="1.0" height="1.0" fill="#000"/>
</svg>
</body></html>
